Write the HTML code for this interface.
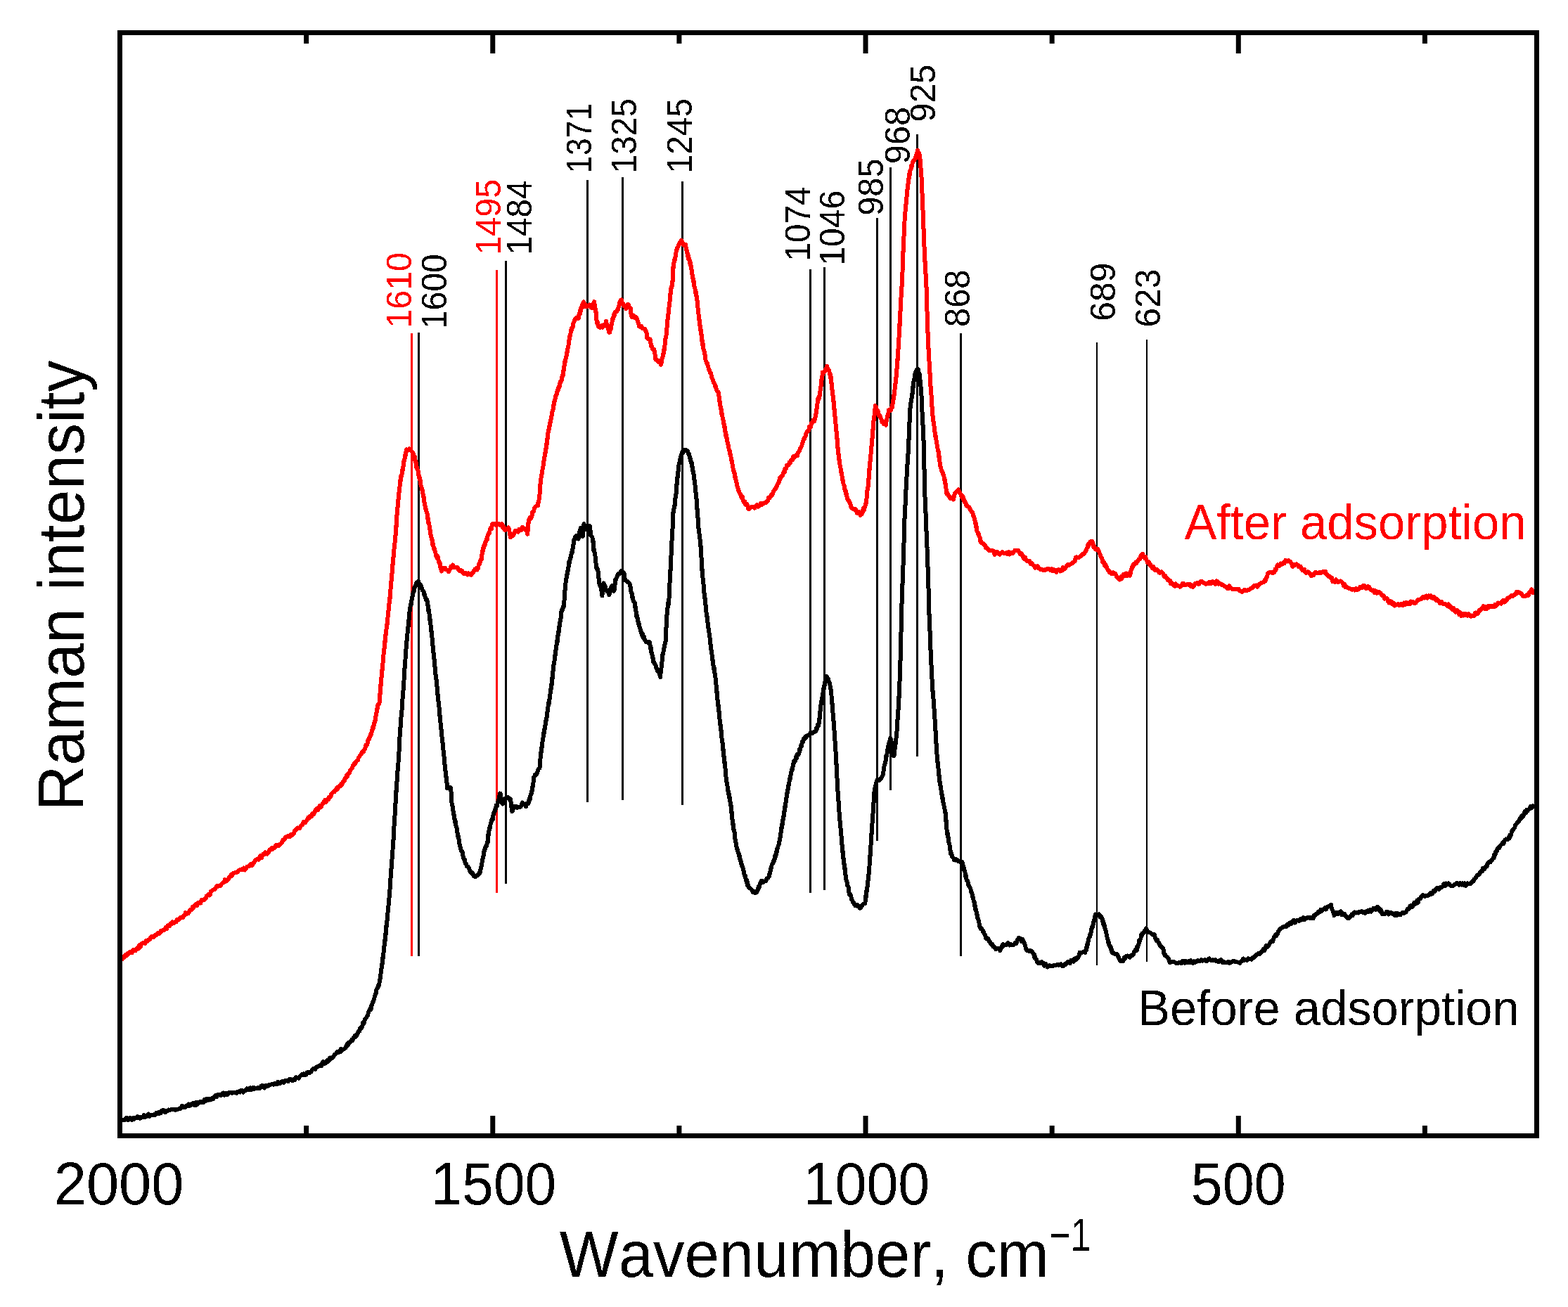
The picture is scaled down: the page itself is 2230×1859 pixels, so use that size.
<!DOCTYPE html><html><head><meta charset="utf-8"><title>Raman spectra</title><style>html,body{margin:0;padding:0;background:#fff;overflow:hidden;}svg{display:block;}</style></head><body><svg width="2230" height="1859" viewBox="0 0 2230 1859">
<rect x="0" y="0" width="2230" height="1859" fill="#fff"/>
<rect x="584" y="474" width="3" height="886" fill="#ff0000"/>
<rect x="594" y="473" width="3" height="887" fill="#000"/>
<rect x="705" y="384" width="3" height="886" fill="#ff0000"/>
<rect x="718" y="371" width="3" height="886" fill="#000"/>
<rect x="834" y="256" width="3" height="885" fill="#000"/>
<rect x="884" y="252" width="3" height="886" fill="#000"/>
<rect x="969" y="258" width="3" height="887" fill="#000"/>
<rect x="1151" y="383" width="3" height="887" fill="#000"/>
<rect x="1171" y="380" width="3" height="886" fill="#000"/>
<rect x="1246" y="310" width="3" height="886" fill="#000"/>
<rect x="1265" y="238" width="3" height="886" fill="#000"/>
<rect x="1303" y="191" width="3" height="885" fill="#000"/>
<rect x="1365" y="474" width="3" height="886" fill="#000"/>
<rect x="1559" y="487" width="2" height="886" fill="#000"/>
<rect x="1630" y="483" width="2" height="885" fill="#000"/>
<path d="M170.5,1365.2L171.8,1363.5L173.1,1364.8L174.4,1361.3L175.7,1362.4L177.1,1360.7L178.4,1358.4L179.7,1359.5L181.0,1356.5L182.3,1357.3L183.6,1354.8L184.9,1353.9L186.2,1354.4L187.6,1355.3L188.9,1351.3L190.2,1350.8L191.5,1351.6L192.8,1352.1L194.1,1349.5L195.5,1347.8L196.8,1349.4L198.2,1344.3L199.5,1347.0L200.9,1343.5L202.2,1341.9L203.6,1340.9L204.9,1340.8L206.3,1342.1L207.6,1338.3L209.0,1339.2L210.3,1338.5L211.7,1336.4L213.0,1336.2L214.4,1333.1L215.7,1332.2L217.0,1331.9L218.4,1333.0L219.7,1331.0L221.1,1329.5L222.4,1329.8L223.7,1328.2L225.1,1326.6L226.4,1327.9L227.8,1326.5L229.1,1323.6L230.5,1324.1L231.8,1322.9L233.1,1323.5L234.5,1321.9L235.8,1319.0L237.2,1321.2L238.5,1316.4L239.8,1316.8L241.2,1317.3L242.5,1313.7L243.9,1314.3L245.2,1311.4L246.6,1313.2L247.9,1312.7L249.3,1310.9L250.6,1311.3L252.0,1307.9L253.3,1308.6L254.7,1307.2L256.0,1306.2L257.4,1304.7L258.7,1305.5L260.1,1305.0L261.4,1302.0L262.7,1301.8L263.9,1298.1L265.2,1299.9L266.5,1298.7L267.7,1299.2L269.0,1297.4L270.3,1294.0L271.5,1293.5L272.8,1293.7L274.1,1289.8L275.3,1290.7L276.6,1288.4L277.9,1287.2L279.1,1285.9L280.4,1288.0L281.7,1284.2L282.9,1283.7L284.2,1283.3L285.4,1284.4L286.6,1279.8L287.8,1280.3L289.0,1279.7L290.2,1280.1L291.4,1278.7L292.6,1277.8L293.8,1274.2L295.0,1273.7L296.3,1272.4L297.5,1273.6L298.7,1272.9L299.9,1268.2L301.1,1267.3L302.3,1266.4L303.5,1265.4L304.7,1265.4L305.9,1264.8L307.1,1262.3L308.4,1260.1L309.6,1260.9L310.9,1259.7L312.2,1259.5L313.4,1260.2L314.7,1258.0L316.0,1256.3L317.2,1255.7L318.5,1254.9L319.8,1251.2L321.0,1253.9L322.3,1252.3L323.6,1251.7L324.8,1250.4L326.1,1247.6L327.4,1246.6L328.6,1244.3L329.9,1245.6L331.4,1242.3L333.0,1241.6L334.5,1241.4L336.0,1240.5L337.5,1240.5L339.1,1238.5L340.6,1237.5L342.1,1237.4L343.6,1236.4L345.2,1236.8L346.7,1234.6L348.2,1237.5L349.7,1235.6L351.3,1232.8L352.8,1232.5L354.1,1231.9L355.3,1231.0L356.6,1228.9L357.9,1231.1L359.1,1230.7L360.4,1227.4L361.7,1226.4L362.9,1223.6L364.2,1222.7L365.5,1222.7L366.7,1221.4L368.0,1222.8L369.3,1218.9L370.5,1217.3L371.8,1220.3L373.1,1217.5L374.3,1214.8L375.6,1215.5L376.9,1212.3L378.3,1213.5L379.6,1214.6L381.0,1213.1L382.3,1211.5L383.6,1208.6L385.0,1208.1L386.3,1206.3L387.7,1208.0L389.0,1206.0L390.4,1206.2L391.7,1203.3L393.0,1201.8L394.4,1203.5L395.7,1203.3L397.1,1201.8L398.4,1200.6L399.7,1199.7L400.9,1198.3L402.2,1195.0L403.5,1195.3L404.8,1193.6L406.0,1191.1L407.3,1190.1L408.6,1190.2L409.9,1189.1L411.1,1190.0L412.4,1190.1L413.7,1186.9L414.9,1188.0L416.2,1187.2L417.5,1186.1L418.8,1182.4L420.0,1180.8L421.3,1179.8L422.4,1178.5L423.6,1177.4L424.7,1178.1L425.9,1178.2L427.0,1176.8L428.1,1174.1L429.3,1173.7L430.4,1173.2L431.6,1168.9L432.7,1170.3L433.8,1170.3L435.0,1168.6L436.1,1167.3L437.3,1164.9L438.4,1162.5L439.5,1164.0L440.7,1160.9L441.8,1161.8L443.0,1161.4L444.1,1157.7L445.2,1156.6L446.4,1157.9L447.5,1155.8L448.7,1152.2L449.8,1150.8L451.0,1149.8L452.1,1152.0L453.3,1150.4L454.4,1146.3L455.6,1148.2L456.7,1147.7L457.8,1145.2L459.0,1142.7L460.1,1142.4L461.3,1139.4L462.4,1137.7L463.6,1140.8L464.7,1138.2L465.9,1136.6L467.0,1137.2L468.1,1133.8L469.2,1134.5L470.3,1133.1L471.3,1129.2L472.4,1128.2L473.5,1127.2L474.6,1125.8L475.7,1126.1L476.8,1123.5L477.9,1123.0L478.9,1120.5L480.0,1122.8L481.1,1119.1L482.2,1118.4L483.3,1117.7L484.4,1118.0L485.5,1114.6L486.5,1115.6L487.6,1112.6L488.7,1111.5L489.8,1110.3L490.7,1106.7L491.5,1107.1L492.4,1104.5L493.2,1102.3L494.1,1104.4L494.9,1100.2L495.8,1100.1L496.6,1099.8L497.5,1097.6L498.4,1095.2L499.2,1094.6L500.1,1093.3L500.9,1092.9L501.8,1088.5L502.6,1089.1L503.5,1086.3L504.4,1085.0L505.3,1085.9L506.2,1083.3L507.2,1082.2L508.1,1081.7L509.0,1081.0L509.9,1077.5L510.8,1076.9L511.7,1075.1L512.6,1073.7L513.5,1073.1L514.5,1070.7L515.4,1069.7L516.3,1068.1L517.2,1068.7L518.0,1066.2L518.7,1065.4L519.5,1064.2L520.3,1059.6L521.0,1059.4L521.8,1059.6L522.6,1057.6L523.3,1053.0L524.1,1051.4L524.9,1051.3L525.6,1048.1L526.4,1047.4L526.9,1045.0L527.4,1046.0L527.9,1044.9L528.3,1043.7L528.8,1038.8L529.3,1039.7L529.8,1037.8L530.3,1033.9L530.8,1035.5L531.3,1034.3L531.7,1029.4L532.2,1030.9L532.7,1026.9L533.2,1025.6L533.5,1026.2L533.9,1023.9L534.2,1019.3L534.5,1018.9L534.8,1017.6L535.2,1015.2L535.5,1012.9L535.8,1011.8L536.2,1012.0L536.5,1007.2L536.8,1007.9L537.1,1005.8L537.5,1002.3L537.8,1002.1L538.6,1001.9L539.5,1000.1L539.6,996.4L539.8,998.8L539.9,996.3L540.0,995.4L540.2,989.9L540.3,989.0L540.4,986.3L540.6,987.9L540.7,984.0L540.8,981.7L540.9,981.4L541.1,981.9L541.2,979.8L541.3,975.7L541.5,973.5L541.6,975.2L541.7,972.0L541.9,970.9L542.0,966.6L542.2,964.8L542.3,965.9L542.5,963.1L542.7,959.9L542.8,962.1L543.0,959.1L543.1,958.2L543.3,953.3L543.5,955.1L543.6,950.0L543.8,951.8L544.0,948.4L544.1,946.2L544.3,945.5L544.4,945.5L544.6,940.9L544.8,938.7L544.9,938.8L545.1,935.8L545.3,933.6L545.4,932.2L545.6,930.1L545.8,929.1L545.9,927.9L546.1,926.2L546.3,926.6L546.4,922.9L546.6,922.1L546.8,919.1L547.0,918.1L547.1,915.0L547.3,914.4L547.5,911.7L547.6,913.2L547.8,910.8L548.0,907.5L548.1,907.1L548.3,907.5L548.5,902.2L548.7,903.7L548.9,900.3L549.1,898.9L549.3,898.7L549.5,895.1L549.7,893.9L550.0,893.0L550.2,892.7L550.4,888.2L550.6,888.7L550.8,886.4L551.0,884.4L551.2,881.8L551.4,879.8L551.6,876.9L551.7,875.5L551.9,873.6L552.1,874.9L552.2,871.1L552.4,869.0L552.6,867.0L552.7,868.6L552.9,867.1L553.1,864.5L553.2,861.1L553.4,859.3L553.6,857.8L553.7,856.9L553.9,853.9L554.1,853.5L554.2,851.0L554.4,852.4L554.6,850.8L554.7,847.2L554.9,844.2L555.1,845.7L555.2,841.2L555.4,839.7L555.6,836.5L555.7,836.5L555.9,835.2L556.1,833.7L556.2,830.7L556.4,830.3L556.5,826.4L556.7,825.9L556.8,823.5L556.9,823.1L557.0,819.9L557.2,818.1L557.3,817.7L557.4,815.7L557.5,815.6L557.7,813.6L557.8,812.9L557.9,810.8L558.0,809.4L558.2,808.4L558.3,804.6L558.4,802.7L558.6,803.9L558.7,798.5L558.9,799.4L559.0,797.4L559.2,793.1L559.3,794.9L559.5,793.4L559.6,790.6L559.8,789.4L559.9,788.1L560.1,783.4L560.2,783.5L560.4,781.7L560.5,781.5L560.7,779.6L560.9,778.1L561.1,775.3L561.3,775.0L561.5,772.3L561.7,770.7L561.8,767.0L562.0,764.4L562.2,763.2L562.4,762.5L562.6,759.6L562.8,761.2L563.0,758.3L563.1,756.9L563.2,755.2L563.3,753.8L563.4,751.3L563.5,747.5L563.6,749.3L563.7,747.4L563.8,744.7L563.9,743.2L564.0,742.0L564.1,737.8L564.2,739.0L564.3,735.2L564.4,732.8L564.5,732.0L564.6,732.3L564.7,728.4L564.8,729.1L565.0,728.5L565.1,724.8L565.3,722.7L565.4,721.5L565.6,720.8L565.8,719.6L565.9,717.3L566.1,715.8L566.2,711.7L566.4,710.4L566.6,709.3L566.7,709.9L566.9,706.3L567.0,705.9L567.2,701.9L567.4,700.4L567.6,699.7L567.8,699.8L567.9,698.2L568.1,696.5L568.3,693.1L568.5,692.4L568.7,690.6L568.9,688.9L569.0,685.7L569.2,687.5L569.4,682.7L569.6,684.5L570.0,682.6L570.3,676.9L570.7,677.2L571.0,677.1L571.4,676.1L571.8,672.1L572.1,669.6L572.5,667.7L572.8,669.2L573.2,664.3L573.5,664.2L573.7,660.6L574.0,660.6L574.2,660.7L574.5,655.4L574.7,656.7L575.0,653.6L575.4,653.6L575.9,651.1L576.3,647.3L576.7,648.5L577.1,645.0L577.6,641.2L578.0,639.4L579.4,640.8L580.8,639.8L582.2,638.3L583.6,639.2L585.0,641.7L586.4,643.2L587.1,646.9L587.8,644.7L588.6,649.4L589.3,651.3L590.0,649.5L590.3,654.7L590.7,655.3L591.0,657.8L591.3,656.7L591.7,658.6L592.0,660.3L592.3,664.6L592.7,664.4L593.0,665.0L593.4,667.0L593.8,668.0L594.3,668.7L594.7,670.6L595.1,675.5L595.5,674.7L595.9,679.3L596.4,677.9L596.8,679.7L597.2,682.4L597.6,682.6L597.9,685.0L598.3,689.1L598.6,690.3L599.0,691.6L599.4,692.3L599.7,695.1L600.1,696.8L600.4,696.7L600.8,699.0L601.1,697.7L601.3,702.3L601.6,702.7L601.9,705.7L602.2,706.8L602.4,706.9L602.7,707.5L603.0,713.0L603.3,711.1L603.5,714.2L603.8,715.3L604.2,716.7L604.6,720.3L604.9,723.0L605.3,721.5L605.7,724.9L606.1,724.9L606.5,727.7L606.9,728.6L607.2,729.3L607.6,730.9L608.0,732.7L608.3,737.4L608.5,737.3L608.8,737.7L609.1,742.3L609.4,744.4L609.6,743.6L609.9,743.9L610.2,745.7L610.5,746.9L610.7,749.7L611.0,750.2L611.3,752.5L611.7,754.2L612.0,757.2L612.3,760.2L612.6,761.3L613.0,761.4L613.3,763.1L613.6,765.2L613.9,766.2L614.3,767.7L614.6,768.1L615.0,770.6L615.4,775.2L615.9,773.0L616.3,776.2L616.7,778.3L617.1,780.9L617.5,779.6L618.0,781.4L618.4,782.8L618.8,785.1L619.5,786.8L620.2,790.6L620.9,791.7L621.5,793.3L622.2,791.1L622.9,792.7L623.6,797.2L624.1,799.6L624.6,799.3L625.0,801.4L625.5,800.4L626.0,803.7L626.5,807.6L627.0,808.7L627.4,810.4L627.9,812.5L628.4,810.9L629.6,809.1L630.8,808.0L632.0,808.4L633.2,807.9L634.4,810.3L635.6,810.5L636.8,811.4L638.0,813.2L639.2,810.4L640.4,809.3L641.6,805.6L642.8,807.4L644.0,803.5L645.4,807.5L646.9,807.3L648.3,806.7L649.8,806.9L651.2,808.4L652.6,811.1L654.0,812.4L655.4,810.8L656.8,811.6L658.2,814.6L659.6,815.9L661.3,815.5L663.0,815.3L664.6,817.4L666.3,815.3L668.0,817.1L669.2,816.6L670.4,817.6L671.6,815.0L672.8,814.9L674.0,811.9L675.5,809.6L677.0,808.4L678.5,810.4L680.0,808.0L680.6,804.6L681.2,801.7L681.8,802.2L682.4,801.3L683.0,798.6L683.6,796.2L684.2,796.4L684.8,795.9L685.1,791.2L685.3,788.8L685.6,788.5L685.9,787.3L686.1,786.8L686.4,783.1L686.7,784.1L686.9,782.3L687.2,779.6L687.8,776.8L688.4,778.7L689.0,774.3L689.6,775.0L690.2,770.9L690.8,769.4L691.4,770.2L692.0,766.7L692.6,767.9L693.2,764.3L693.8,761.3L694.4,759.8L695.0,759.0L695.6,758.4L696.2,758.0L696.8,752.8L697.5,752.5L698.2,750.3L699.0,752.2L699.7,747.1L700.4,745.2L702.1,744.5L703.8,745.3L705.4,746.8L707.1,746.0L708.8,744.6L710.4,746.6L712.0,747.1L713.6,745.2L714.4,746.0L715.2,750.7L716.0,751.3L716.7,749.5L717.5,753.7L718.3,753.9L719.9,753.0L721.5,752.1L723.1,750.5L723.6,751.5L724.1,754.5L724.6,756.5L725.2,760.9L725.7,758.9L726.2,764.3L726.7,762.7L727.9,761.9L729.1,762.5L730.3,761.1L731.5,757.9L732.7,754.8L734.1,756.0L735.6,754.8L737.0,756.5L738.5,752.6L739.9,752.6L741.4,754.3L742.9,749.9L744.4,751.0L745.9,752.2L746.7,753.4L747.6,751.7L748.4,753.1L749.3,754.6L750.1,759.8L750.3,755.3L750.5,755.7L750.6,754.7L750.8,750.6L751.0,748.6L751.2,749.9L751.4,746.8L751.5,743.5L751.7,743.8L751.9,740.4L752.8,738.7L753.7,736.0L754.6,737.8L755.5,737.0L756.0,734.2L756.5,734.1L757.0,728.5L757.6,727.9L758.1,727.4L758.6,728.0L759.1,726.4L760.3,722.5L761.5,720.4L762.7,719.8L763.9,718.6L765.1,719.1L765.4,714.2L765.7,715.2L766.0,713.3L766.3,712.0L766.6,710.2L766.9,707.8L767.2,704.9L767.5,703.2L767.6,701.8L767.7,702.0L767.8,697.2L767.9,696.1L768.0,696.9L768.2,693.1L768.3,690.6L768.4,688.9L768.5,689.5L768.6,686.9L768.7,688.1L769.0,686.0L769.2,684.7L769.5,679.8L769.8,677.2L770.0,675.6L770.3,675.6L770.6,674.8L770.8,671.9L771.1,669.2L771.4,668.4L771.6,667.7L771.9,666.4L772.2,665.1L772.4,663.9L772.7,661.5L773.0,657.5L773.2,659.1L773.5,655.1L773.8,654.7L774.0,652.2L774.3,652.2L774.6,648.3L774.8,646.9L775.1,645.3L775.4,643.3L775.6,644.9L775.9,641.9L776.2,639.1L776.4,637.7L776.7,638.6L777.0,634.7L777.2,631.8L777.5,632.6L777.8,630.1L778.0,629.9L778.3,624.3L778.5,624.2L778.7,624.0L778.9,622.4L779.1,621.1L779.4,615.5L779.6,615.0L779.8,612.5L780.0,611.1L780.4,613.0L780.7,609.7L781.1,609.6L781.4,605.5L781.8,606.1L782.1,602.6L782.5,600.2L782.9,600.9L783.2,600.0L783.6,594.7L783.9,595.2L784.3,593.7L784.6,590.4L785.0,589.4L785.3,586.8L785.6,585.4L785.9,583.9L786.2,583.8L786.6,582.3L786.9,578.7L787.2,576.2L787.5,575.9L787.8,575.8L788.1,571.9L788.4,570.8L788.8,568.7L789.2,569.8L789.7,567.1L790.2,563.5L790.7,562.1L791.2,561.8L791.6,561.0L792.1,559.8L792.6,555.9L793.1,554.7L793.6,555.5L794.0,552.7L794.5,550.6L795.0,549.2L795.5,550.4L796.1,545.9L796.6,545.4L797.2,542.8L797.8,541.4L798.3,541.8L798.9,540.7L799.4,536.3L800.0,533.9L800.5,534.6L800.8,530.7L801.0,528.2L801.2,530.5L801.5,526.8L801.8,526.9L802.0,523.5L802.2,523.9L802.5,520.5L802.8,517.5L803.0,515.3L803.4,515.9L803.8,514.6L804.2,514.0L804.6,508.7L805.0,509.3L805.4,506.5L805.8,505.3L806.1,502.0L806.5,500.9L806.8,500.2L807.2,500.2L807.5,494.9L807.9,494.8L808.2,494.4L808.4,493.4L808.7,488.3L808.9,486.3L809.1,488.1L809.3,486.5L809.6,482.7L809.8,479.0L810.1,481.3L810.5,477.3L810.8,477.9L811.2,475.0L811.5,474.3L812.1,469.8L812.6,470.9L813.2,466.8L813.7,466.0L814.3,466.3L814.8,464.6L815.4,460.2L815.9,458.7L816.4,457.9L817.0,456.8L817.5,454.6L819.1,452.3L820.8,451.8L822.4,452.8L823.0,451.9L823.6,446.5L824.2,447.2L824.8,446.4L825.3,441.5L825.8,443.2L826.2,438.3L826.7,438.6L827.2,436.6L827.9,435.1L828.7,431.9L829.4,430.6L830.1,429.5L830.6,430.6L831.1,433.4L831.6,434.3L832.1,436.1L833.7,433.9L835.4,436.1L837.0,435.2L838.6,433.6L840.2,437.2L841.8,438.4L842.6,435.4L843.5,432.6L844.3,432.3L845.1,429.1L845.4,430.9L845.7,433.9L846.0,434.1L846.3,437.4L846.6,439.4L846.9,439.1L847.2,443.4L847.5,442.7L847.6,447.3L847.8,449.3L847.9,449.9L848.0,449.6L848.2,453.4L848.3,454.6L848.9,458.9L849.6,457.1L850.2,462.0L850.9,464.4L851.5,465.0L853.1,465.8L854.8,463.5L856.8,465.7L858.8,462.3L859.9,463.0L861.0,461.5L862.1,456.8L862.6,461.3L863.2,463.7L863.7,461.6L864.2,464.6L864.8,468.2L865.3,467.3L866.1,472.6L866.9,471.9L867.4,472.5L867.8,467.8L868.3,467.7L868.8,467.8L869.3,462.9L869.7,461.4L870.2,460.7L870.5,458.3L870.7,455.4L871.0,454.5L871.3,452.7L871.5,454.5L871.8,451.8L872.6,451.3L873.4,446.7L874.2,448.0L875.0,443.6L876.1,443.8L877.2,442.7L878.3,439.9L878.8,440.5L879.4,437.5L879.9,436.0L880.4,435.7L881.0,430.7L881.5,433.0L882.0,429.7L882.6,427.1L883.1,427.2L883.9,426.5L884.7,431.3L885.6,431.1L886.4,431.8L887.2,435.2L888.3,435.1L889.3,435.3L890.4,439.2L891.2,434.7L892.0,436.7L892.8,432.7L893.6,433.0L894.3,436.1L894.9,436.0L895.6,438.0L896.2,438.1L896.9,438.3L897.1,440.1L897.2,442.2L897.4,445.9L897.5,446.7L897.7,448.7L899.1,451.1L900.5,448.6L902.0,449.8L903.4,452.5L904.5,451.3L905.5,452.9L906.6,456.1L907.2,456.8L907.8,459.7L908.4,461.0L909.0,464.4L910.6,465.2L912.3,464.3L913.9,466.9L915.5,467.6L917.1,467.5L918.7,472.3L919.0,471.1L919.4,472.5L919.7,474.0L920.1,478.2L920.4,481.0L921.7,482.0L923.1,481.6L924.4,482.4L924.7,482.9L925.0,487.3L925.4,488.5L925.7,489.2L926.0,492.1L927.0,492.9L928.0,496.7L928.9,497.4L929.9,496.9L930.9,501.4L931.1,499.3L931.4,503.2L931.6,504.4L931.8,505.4L932.0,506.3L932.3,511.2L932.5,509.6L934.5,512.8L936.6,515.3L937.7,513.4L938.7,515.3L939.8,518.7L940.3,516.5L940.8,515.3L941.2,514.2L941.7,509.6L942.2,508.5L942.6,506.7L942.9,503.9L943.3,505.8L943.6,503.6L944.0,501.6L944.3,496.8L944.7,498.7L944.9,496.5L945.2,493.6L945.4,493.0L945.6,490.0L945.8,487.3L946.1,485.0L946.3,483.8L946.5,481.2L946.8,480.8L947.0,480.9L947.2,478.9L947.4,477.9L947.7,475.6L947.9,471.9L948.1,471.5L948.2,469.4L948.4,469.3L948.5,466.5L948.7,463.8L948.9,463.8L949.0,463.6L949.2,458.7L949.3,460.0L949.5,454.6L949.7,454.0L949.8,452.3L950.0,452.9L950.1,452.2L950.3,449.7L950.5,446.2L950.6,447.0L950.8,443.0L950.9,441.0L951.1,442.3L951.3,439.5L951.4,438.1L951.6,436.4L951.8,436.1L952.0,432.3L952.1,432.3L952.3,430.0L952.5,429.1L952.6,425.6L952.8,425.3L953.0,422.9L953.3,420.0L953.5,417.8L953.7,417.9L953.9,413.7L954.2,415.7L954.4,410.5L954.7,408.3L955.1,406.9L955.4,408.8L955.8,404.5L956.1,401.9L956.5,399.7L956.8,398.0L956.9,399.2L956.9,397.3L957.0,395.9L957.0,394.4L957.1,389.8L957.1,390.4L957.2,387.7L957.3,388.1L957.3,386.4L957.4,385.1L957.4,379.8L957.5,381.6L957.8,380.2L958.2,378.6L958.5,373.3L958.8,372.0L959.2,370.0L959.5,368.0L959.8,369.9L960.2,368.0L960.5,365.6L960.8,364.8L961.2,362.2L961.5,359.1L961.8,356.6L962.2,354.9L962.5,356.1L963.3,352.1L964.1,351.1L964.8,350.0L965.6,346.6L966.4,346.1L967.2,344.7L968.0,345.0L968.8,341.9L969.8,343.0L970.8,347.0L971.9,346.3L972.9,349.0L974.0,349.3L975.0,347.9L975.4,351.3L975.8,353.1L976.2,356.2L976.7,356.0L977.1,359.2L977.5,360.2L977.9,360.4L978.3,364.9L978.8,363.2L979.2,368.0L979.7,366.7L980.2,367.5L980.6,369.9L981.1,374.0L981.6,376.5L982.0,373.8L982.5,377.5L982.8,379.1L983.0,382.0L983.3,380.9L983.6,383.9L983.8,384.9L984.1,388.6L984.4,387.7L984.6,392.3L984.9,391.0L985.2,392.3L985.4,396.1L985.7,396.8L986.0,396.7L986.2,400.6L986.6,399.8L986.9,404.6L987.2,405.9L987.6,407.9L987.9,408.9L988.2,409.4L988.6,411.2L988.9,412.9L989.2,416.7L989.6,414.8L989.9,420.0L990.2,417.9L990.6,420.4L990.9,422.3L991.2,426.8L991.4,426.6L991.6,427.7L991.8,431.5L991.9,430.2L992.1,432.8L992.3,434.7L992.4,437.3L992.6,438.8L992.8,440.0L993.0,440.2L993.1,441.7L993.3,442.6L993.5,447.2L993.6,448.0L993.8,449.9L994.0,449.0L994.1,451.8L994.3,454.8L994.5,455.6L994.7,455.2L994.8,458.2L995.0,461.7L995.2,460.5L995.5,462.0L995.8,464.1L996.0,467.6L996.2,469.8L996.5,468.5L996.8,470.2L997.0,472.2L997.2,474.2L997.5,476.8L997.8,476.8L998.0,479.2L998.2,480.3L998.5,485.4L998.8,486.0L999.0,484.9L999.3,490.3L999.6,488.1L999.9,491.0L1000.2,495.2L1000.5,496.0L1000.8,497.4L1001.1,497.7L1001.4,498.2L1001.7,501.8L1002.0,501.1L1002.3,503.1L1002.6,505.5L1002.9,505.6L1003.2,508.8L1003.5,512.2L1003.8,513.4L1004.3,514.0L1004.9,516.2L1005.5,517.0L1006.1,517.1L1006.6,520.6L1007.2,521.3L1007.8,524.3L1008.4,526.6L1008.9,526.0L1009.5,528.2L1010.1,530.5L1010.7,530.6L1011.2,531.3L1011.8,535.1L1012.4,537.4L1013.0,538.5L1013.5,539.7L1014.1,542.0L1014.7,542.8L1015.2,544.3L1015.8,545.0L1016.4,546.0L1016.9,549.0L1017.5,548.2L1018.3,551.3L1019.0,554.6L1019.8,555.9L1020.6,557.2L1021.3,557.2L1022.1,559.7L1022.3,561.5L1022.5,564.0L1022.8,564.7L1023.0,567.6L1023.2,570.4L1023.4,568.9L1023.7,572.7L1023.9,574.9L1024.1,574.9L1024.4,577.1L1024.8,580.9L1025.1,578.5L1025.5,582.4L1025.8,582.5L1026.2,586.9L1026.5,589.3L1026.9,589.2L1027.2,589.0L1027.5,592.9L1027.9,594.4L1028.2,596.9L1028.6,597.7L1028.9,600.0L1029.3,602.6L1029.6,603.0L1030.0,604.2L1030.3,608.3L1030.6,606.7L1030.9,610.5L1031.2,611.0L1031.5,614.3L1031.7,613.2L1032.0,618.7L1032.3,617.6L1032.6,618.0L1032.9,620.7L1033.3,623.0L1033.7,623.0L1034.1,626.5L1034.5,628.2L1034.9,631.1L1035.3,631.3L1035.7,632.6L1036.1,634.2L1036.5,638.2L1036.9,640.7L1037.3,640.6L1037.7,641.0L1038.1,645.3L1038.5,645.2L1038.9,646.1L1039.3,647.4L1039.7,652.0L1040.1,653.9L1040.4,654.8L1040.8,655.8L1041.1,657.9L1041.4,658.2L1041.8,663.2L1042.1,662.2L1042.4,665.2L1042.8,667.7L1043.1,669.4L1043.5,669.6L1043.9,670.5L1044.3,673.3L1044.7,673.2L1045.1,678.0L1045.5,677.6L1045.9,681.5L1046.3,680.7L1046.7,682.9L1047.1,684.0L1047.5,686.4L1047.9,687.0L1048.2,687.9L1048.6,692.8L1049.0,692.5L1049.4,694.0L1049.8,695.9L1050.5,698.2L1051.3,699.4L1052.0,701.8L1052.8,703.3L1053.5,703.5L1054.3,707.4L1055.0,708.6L1055.8,706.6L1056.7,711.5L1057.5,713.4L1058.4,714.4L1059.2,713.2L1060.1,717.8L1061.1,718.3L1062.1,717.0L1063.2,718.5L1064.2,724.0L1065.2,724.2L1066.9,722.0L1068.5,720.9L1070.2,720.7L1071.8,720.6L1073.5,722.6L1075.1,719.9L1076.8,718.2L1078.4,720.7L1080.1,719.4L1081.7,715.8L1083.3,718.2L1085.0,716.1L1086.6,716.1L1088.3,714.8L1089.9,714.9L1090.9,713.2L1092.0,712.1L1093.0,708.0L1094.0,708.9L1095.0,706.9L1096.0,706.5L1097.1,703.9L1098.1,704.6L1099.1,701.6L1100.2,698.8L1101.2,697.1L1102.2,695.2L1103.3,695.2L1104.3,691.8L1105.0,691.9L1105.6,688.8L1106.2,688.6L1106.9,687.0L1107.5,685.5L1108.2,685.2L1108.8,679.8L1109.5,681.8L1110.4,678.7L1111.2,677.6L1112.1,676.6L1113.0,675.9L1113.9,672.4L1114.7,671.1L1115.6,672.0L1116.5,666.6L1117.3,667.5L1118.2,666.0L1119.1,661.8L1119.9,662.8L1120.8,661.6L1121.8,661.3L1122.8,657.3L1123.8,658.8L1124.9,655.3L1125.9,653.8L1126.9,654.2L1128.3,649.2L1129.8,651.0L1131.2,649.4L1132.7,646.9L1134.1,648.0L1134.8,644.3L1135.6,643.3L1136.3,642.1L1137.1,641.7L1137.8,637.8L1138.6,637.3L1139.3,635.8L1139.8,634.8L1140.3,634.5L1140.8,630.6L1141.3,631.4L1141.9,628.0L1142.4,626.9L1142.9,624.3L1143.4,623.8L1144.1,624.4L1144.9,621.5L1145.6,620.7L1146.3,617.2L1147.0,615.6L1147.8,614.1L1148.5,613.9L1149.4,612.5L1150.2,611.7L1151.1,606.8L1152.0,608.3L1152.8,607.4L1153.7,604.4L1154.5,600.9L1155.4,600.6L1156.2,597.9L1157.1,597.4L1158.0,599.2L1158.8,596.5L1159.2,595.0L1159.5,593.8L1159.8,592.7L1160.2,589.6L1160.6,587.9L1160.9,586.3L1161.1,584.9L1161.3,582.7L1161.6,581.4L1161.8,577.6L1162.0,577.9L1162.2,575.2L1162.5,574.9L1162.7,570.3L1162.9,568.9L1163.4,566.7L1163.9,568.4L1164.5,567.5L1165.0,564.8L1165.5,562.0L1166.0,562.4L1166.2,560.6L1166.4,558.0L1166.6,555.0L1166.8,553.6L1167.1,552.5L1167.3,550.4L1167.5,549.3L1167.7,548.6L1167.9,548.2L1168.1,542.7L1168.3,543.3L1168.5,539.4L1168.7,538.1L1168.9,539.5L1169.2,536.9L1169.4,536.7L1169.6,533.0L1169.8,529.5L1170.0,529.5L1171.0,529.2L1172.1,529.4L1173.1,528.4L1174.2,524.9L1175.2,523.4L1176.2,520.7L1176.9,524.7L1177.5,524.4L1178.1,525.7L1178.8,526.6L1179.4,528.1L1180.0,532.7L1180.6,531.8L1181.2,537.1L1181.5,534.9L1181.7,540.0L1181.9,538.4L1182.1,539.5L1182.3,544.3L1182.5,543.9L1182.7,547.7L1182.9,547.0L1183.1,548.0L1183.3,552.9L1183.5,554.3L1183.8,556.6L1183.9,557.7L1184.1,556.5L1184.2,560.6L1184.4,562.6L1184.6,563.2L1184.8,566.9L1184.9,565.6L1185.1,570.4L1185.2,571.0L1185.4,569.5L1185.6,571.2L1185.8,575.7L1185.9,578.1L1186.1,576.5L1186.2,579.2L1186.4,582.7L1186.6,581.9L1186.8,586.6L1186.9,586.6L1187.1,586.4L1187.2,589.4L1187.4,592.0L1187.6,593.1L1187.8,595.8L1187.9,595.1L1188.1,599.6L1188.2,599.4L1188.4,602.3L1188.6,603.9L1188.8,604.6L1188.9,606.3L1189.1,609.8L1189.3,612.3L1189.5,613.4L1189.6,614.2L1189.8,614.8L1190.0,615.6L1190.1,621.3L1190.3,621.7L1190.4,623.9L1190.6,623.4L1190.7,626.3L1190.8,629.6L1191.0,630.6L1191.1,631.3L1191.2,631.7L1191.4,633.9L1191.5,637.5L1191.7,637.0L1191.8,640.0L1191.9,641.3L1192.1,644.2L1192.2,645.5L1192.4,644.9L1192.5,645.3L1192.8,648.1L1193.0,650.4L1193.3,652.7L1193.6,655.3L1193.8,657.2L1194.1,655.1L1194.4,660.2L1194.6,661.7L1194.9,663.6L1195.2,663.9L1195.4,664.2L1195.7,668.3L1196.0,669.7L1196.2,670.8L1196.6,673.5L1196.9,672.7L1197.2,673.2L1197.5,676.9L1197.8,679.6L1198.1,678.7L1198.4,682.8L1198.8,685.2L1199.1,683.8L1199.4,687.1L1199.7,689.1L1200.0,689.8L1200.5,690.3L1200.9,692.1L1201.4,695.9L1201.8,697.6L1202.3,697.8L1202.7,697.7L1203.2,702.5L1203.6,703.9L1204.1,703.1L1204.5,706.3L1205.0,709.2L1205.6,710.7L1206.2,710.6L1206.9,711.9L1207.5,713.9L1208.1,713.6L1208.8,715.1L1209.4,716.6L1210.0,720.4L1210.6,720.4L1211.2,722.8L1212.8,723.1L1214.2,724.6L1215.8,724.0L1217.2,724.5L1218.8,729.7L1220.0,727.9L1221.2,727.8L1222.5,731.1L1223.8,732.8L1225.0,731.0L1225.6,731.4L1226.2,728.8L1226.9,728.1L1227.5,724.4L1228.1,722.9L1228.8,725.7L1229.4,723.6L1230.0,720.4L1230.6,719.3L1231.2,716.5L1231.5,717.1L1231.7,713.8L1231.9,714.5L1232.1,712.0L1232.3,710.6L1232.5,709.5L1232.7,704.8L1232.9,702.1L1233.1,701.2L1233.3,699.4L1233.5,697.3L1233.8,695.5L1234.0,696.1L1234.2,695.8L1234.4,692.3L1234.6,692.8L1234.8,691.0L1235.0,685.6L1235.1,686.3L1235.2,683.8L1235.4,681.0L1235.5,683.0L1235.6,678.3L1235.8,678.0L1235.9,676.7L1236.0,676.5L1236.1,673.6L1236.2,670.8L1236.4,669.4L1236.5,666.5L1236.6,668.4L1236.8,666.9L1236.9,661.9L1237.0,659.5L1237.1,658.8L1237.2,657.6L1237.4,658.4L1237.5,656.8L1237.7,654.8L1237.8,649.7L1238.0,651.3L1238.2,649.3L1238.3,647.3L1238.5,647.1L1238.7,641.4L1238.8,640.1L1239.0,641.1L1239.2,640.3L1239.3,637.4L1239.5,634.1L1239.7,633.7L1239.8,632.8L1240.0,628.3L1240.1,627.6L1240.3,625.6L1240.4,623.3L1240.6,623.3L1240.7,620.2L1240.8,618.8L1241.0,616.8L1241.1,617.4L1241.2,612.9L1241.4,614.3L1241.5,610.3L1241.7,608.0L1241.8,610.2L1241.9,605.4L1242.1,606.9L1242.2,604.9L1242.4,603.4L1242.5,598.4L1242.7,598.2L1242.9,595.0L1243.0,597.1L1243.2,595.1L1243.4,592.5L1243.6,590.1L1243.8,588.0L1243.9,588.6L1244.1,585.4L1244.3,584.5L1244.5,580.7L1244.6,579.5L1244.8,577.2L1245.0,578.4L1245.6,579.3L1246.2,579.1L1246.9,583.8L1247.5,582.7L1248.1,584.9L1248.8,585.4L1249.4,587.4L1250.0,591.5L1250.8,590.9L1251.7,591.9L1252.5,595.0L1253.3,595.9L1254.2,600.1L1255.0,598.3L1256.7,603.1L1258.3,600.1L1260.0,604.7L1260.3,602.1L1260.7,598.5L1261.0,598.0L1261.4,595.5L1261.7,593.8L1262.0,591.9L1262.4,590.9L1262.7,592.1L1263.1,590.5L1263.4,588.5L1263.8,583.2L1265.3,582.7L1266.8,583.9L1268.3,578.9L1268.6,580.1L1269.0,576.6L1269.3,578.0L1269.6,572.1L1269.9,573.9L1270.2,570.2L1270.6,567.7L1270.9,565.4L1271.1,567.4L1271.3,564.4L1271.5,561.3L1271.7,560.8L1271.9,561.2L1272.1,556.5L1272.3,556.5L1272.6,552.9L1272.8,551.5L1273.0,552.4L1273.2,550.5L1273.4,546.6L1273.6,544.5L1273.8,542.9L1274.0,543.5L1274.2,541.4L1274.3,538.8L1274.5,536.8L1274.6,537.0L1274.7,535.7L1274.8,534.5L1275.0,531.9L1275.1,528.6L1275.2,526.3L1275.4,527.6L1275.5,524.5L1275.6,524.3L1275.8,519.7L1275.9,521.4L1276.0,517.6L1276.2,518.2L1276.3,516.7L1276.4,513.4L1276.5,509.7L1276.7,511.9L1276.8,508.4L1276.9,508.5L1277.0,504.2L1277.1,502.2L1277.2,503.4L1277.3,499.7L1277.4,497.2L1277.5,496.5L1277.6,495.8L1277.7,491.6L1277.8,492.2L1277.9,490.2L1278.0,488.9L1278.1,485.5L1278.2,486.5L1278.3,485.3L1278.4,483.9L1278.5,479.8L1278.6,479.9L1278.7,476.8L1278.8,476.8L1278.9,472.1L1279.0,474.1L1279.1,472.8L1279.1,469.1L1279.2,467.5L1279.3,466.0L1279.4,464.3L1279.5,460.4L1279.6,463.0L1279.7,458.0L1279.7,456.2L1279.8,454.2L1279.9,453.2L1280.0,454.1L1280.1,449.0L1280.2,447.6L1280.2,448.6L1280.3,444.7L1280.4,442.3L1280.5,443.2L1280.6,441.5L1280.7,439.6L1280.8,438.8L1280.9,434.5L1281.0,436.2L1281.1,433.9L1281.2,429.4L1281.3,428.1L1281.3,428.1L1281.4,426.5L1281.5,423.8L1281.6,421.5L1281.7,421.1L1281.8,418.3L1281.9,418.7L1282.0,418.2L1282.1,413.4L1282.2,413.7L1282.3,412.8L1282.3,408.6L1282.4,409.8L1282.5,408.7L1282.6,404.6L1282.6,403.1L1282.7,403.3L1282.8,400.3L1282.9,398.1L1282.9,398.8L1283.0,396.5L1283.1,392.9L1283.2,390.8L1283.2,389.6L1283.3,388.4L1283.4,389.1L1283.5,386.7L1283.5,385.5L1283.6,383.5L1283.7,382.0L1283.7,376.8L1283.8,377.2L1283.9,377.5L1283.9,375.8L1284.0,371.1L1284.1,370.3L1284.1,369.5L1284.2,366.7L1284.2,365.8L1284.3,362.1L1284.4,362.1L1284.4,360.8L1284.5,357.0L1284.6,355.9L1284.6,357.9L1284.7,355.4L1284.8,354.5L1284.8,351.5L1284.9,350.6L1285.0,349.3L1285.0,347.7L1285.1,342.3L1285.2,343.3L1285.2,340.0L1285.3,340.2L1285.3,336.8L1285.4,336.3L1285.5,336.4L1285.5,333.4L1285.6,330.1L1285.7,329.7L1285.7,327.7L1285.8,328.3L1285.9,323.7L1285.9,322.2L1286.0,322.0L1286.1,318.1L1286.2,318.5L1286.4,318.5L1286.5,314.9L1286.6,312.2L1286.8,311.4L1286.9,310.0L1287.0,306.7L1287.1,305.0L1287.2,303.3L1287.4,302.4L1287.5,301.3L1287.6,299.1L1287.8,297.3L1287.9,294.9L1288.0,295.3L1288.2,295.0L1288.3,292.3L1288.5,290.5L1288.7,289.2L1288.8,285.6L1289.0,286.2L1289.1,283.4L1289.3,282.2L1289.5,280.8L1289.6,278.5L1289.8,276.2L1289.9,274.2L1290.1,272.5L1290.3,272.1L1290.4,269.9L1290.6,269.2L1290.8,265.0L1291.0,264.9L1291.2,265.5L1291.5,261.1L1291.7,260.8L1291.9,258.9L1292.1,256.4L1292.3,257.8L1292.5,253.1L1292.8,253.6L1293.0,249.2L1293.2,247.2L1293.6,249.2L1294.0,245.7L1294.4,242.4L1294.8,242.3L1295.2,240.9L1295.6,240.7L1296.0,236.3L1296.4,235.3L1296.8,236.9L1297.2,234.4L1298.0,230.3L1298.7,229.5L1299.5,228.1L1300.3,228.0L1301.0,226.2L1301.8,225.7L1302.3,223.8L1302.9,220.7L1303.4,220.0L1304.0,218.2L1304.5,216.5L1305.1,213.5L1305.6,216.4L1306.2,217.6L1306.7,220.0L1307.2,218.1L1307.8,222.9L1308.3,220.6L1308.4,225.6L1308.5,226.5L1308.7,227.7L1308.8,231.4L1308.9,231.3L1309.0,232.3L1309.2,235.6L1309.3,237.6L1309.4,238.1L1309.5,238.7L1309.7,240.7L1309.8,242.3L1309.9,245.2L1310.0,244.9L1310.2,247.0L1310.3,249.3L1310.4,250.2L1310.5,251.6L1310.5,255.3L1310.6,257.2L1310.7,257.3L1310.8,258.7L1310.9,259.2L1310.9,261.4L1311.0,262.3L1311.1,265.9L1311.2,267.5L1311.3,267.0L1311.4,272.3L1311.4,271.3L1311.5,275.3L1311.6,276.9L1311.7,279.1L1311.7,277.4L1311.8,280.0L1311.8,283.8L1311.9,281.5L1312.0,283.3L1312.0,287.2L1312.1,288.5L1312.2,292.0L1312.2,293.0L1312.3,293.7L1312.3,297.3L1312.4,296.8L1312.5,298.5L1312.5,300.9L1312.6,301.2L1312.7,302.7L1312.7,305.4L1312.8,306.0L1312.8,310.2L1312.9,310.7L1313.0,311.6L1313.0,311.4L1313.1,314.2L1313.2,316.0L1313.2,318.3L1313.3,320.0L1313.3,323.0L1313.4,325.0L1313.5,324.6L1313.5,326.0L1313.6,328.4L1313.7,331.7L1313.7,330.5L1313.8,333.0L1313.9,335.9L1313.9,334.7L1314.0,337.0L1314.1,341.5L1314.2,342.5L1314.2,342.7L1314.3,342.6L1314.4,347.7L1314.4,348.5L1314.5,350.7L1314.6,353.1L1314.6,354.3L1314.7,353.9L1314.8,354.3L1314.9,356.6L1314.9,359.2L1315.0,360.8L1315.1,361.0L1315.2,362.7L1315.3,366.3L1315.3,367.8L1315.4,368.3L1315.5,372.8L1315.6,372.9L1315.7,371.9L1315.8,375.2L1315.8,378.5L1315.9,378.0L1316.0,381.3L1316.1,379.9L1316.2,382.9L1316.3,386.9L1316.4,387.3L1316.4,389.3L1316.5,388.9L1316.6,391.8L1316.7,393.7L1316.8,394.0L1316.9,397.3L1317.0,398.4L1317.1,402.1L1317.1,401.9L1317.2,402.8L1317.3,403.1L1317.4,404.9L1317.5,409.1L1317.5,407.9L1317.6,409.6L1317.6,411.5L1317.7,414.8L1317.7,417.7L1317.7,418.5L1317.8,421.0L1317.8,419.4L1317.9,420.8L1317.9,425.8L1318.0,425.5L1318.0,428.9L1318.0,429.0L1318.1,429.9L1318.1,431.9L1318.2,432.9L1318.2,438.1L1318.3,438.3L1318.3,438.9L1318.4,441.0L1318.4,442.3L1318.5,442.5L1318.5,447.8L1318.6,448.1L1318.7,451.4L1318.7,450.8L1318.8,453.2L1318.8,453.2L1318.9,453.9L1318.9,459.5L1319.0,460.8L1319.0,460.0L1319.1,464.3L1319.2,465.5L1319.2,464.9L1319.3,467.9L1319.4,471.1L1319.4,470.7L1319.5,474.3L1319.6,472.9L1319.7,475.2L1319.7,478.3L1319.8,477.7L1319.9,479.7L1319.9,483.9L1320.0,483.8L1320.1,486.8L1320.1,486.0L1320.2,487.4L1320.3,489.8L1320.4,490.7L1320.4,495.8L1320.5,494.5L1320.6,497.3L1320.7,497.0L1320.8,500.5L1320.8,501.4L1320.9,503.2L1321.0,503.3L1321.1,505.2L1321.2,510.0L1321.3,509.5L1321.3,510.7L1321.4,512.1L1321.5,514.1L1321.6,515.6L1321.7,516.3L1321.8,520.8L1321.9,521.0L1322.0,521.8L1322.1,525.9L1322.2,524.8L1322.3,527.2L1322.4,531.4L1322.5,529.9L1322.6,532.9L1322.7,536.3L1322.8,537.8L1322.9,536.6L1323.0,539.1L1323.1,542.4L1323.2,542.5L1323.3,546.7L1323.4,545.0L1323.5,549.9L1323.6,549.6L1323.7,550.0L1323.8,552.7L1323.9,552.9L1324.1,557.0L1324.2,556.7L1324.3,561.2L1324.4,561.4L1324.5,562.1L1324.6,563.2L1324.7,566.4L1324.8,566.3L1324.9,570.9L1325.0,569.2L1325.2,572.6L1325.3,574.4L1325.4,574.8L1325.5,578.7L1325.6,578.6L1325.8,581.4L1325.9,582.7L1326.0,583.2L1326.1,585.2L1326.2,585.5L1326.3,587.5L1326.5,592.2L1326.6,591.5L1326.7,594.6L1326.9,593.8L1327.2,597.5L1327.4,598.2L1327.6,600.5L1327.8,601.2L1328.1,601.8L1328.3,604.6L1328.5,605.8L1328.7,607.0L1329.0,611.3L1329.2,611.0L1329.4,613.2L1329.7,617.0L1330.0,618.1L1330.2,620.2L1330.5,621.8L1330.8,620.2L1331.1,622.5L1331.3,623.0L1331.6,627.5L1331.9,629.1L1332.2,629.4L1332.4,631.3L1332.7,634.0L1333.0,635.8L1333.3,635.4L1333.6,639.6L1333.9,639.0L1334.2,641.8L1334.5,641.4L1334.8,642.7L1335.1,647.8L1335.3,648.7L1335.5,650.3L1335.7,649.1L1335.9,650.8L1336.1,653.0L1336.3,654.9L1336.5,657.0L1336.7,659.1L1336.9,659.3L1337.1,662.2L1337.7,665.1L1338.2,664.6L1338.8,669.0L1339.3,669.3L1339.9,671.5L1340.4,670.9L1341.0,673.2L1341.5,676.0L1341.9,676.2L1342.4,676.4L1342.9,681.8L1343.4,683.2L1343.8,682.8L1344.3,683.4L1344.5,688.7L1344.7,689.4L1345.0,688.6L1345.2,691.3L1345.4,692.4L1345.6,697.1L1345.9,696.3L1346.1,701.2L1346.3,702.2L1347.3,700.6L1348.4,704.6L1349.4,704.6L1350.5,707.5L1351.5,709.1L1353.5,708.0L1355.5,708.5L1355.9,710.5L1356.4,706.5L1356.8,706.9L1357.2,704.1L1357.7,702.6L1358.1,701.3L1359.8,699.9L1361.6,698.7L1363.3,696.5L1364.4,701.0L1365.4,701.3L1366.5,703.3L1367.5,706.7L1368.6,704.8L1369.4,709.1L1370.2,707.5L1370.9,712.0L1371.7,714.0L1372.5,713.1L1373.6,716.0L1374.6,719.4L1375.7,719.5L1376.7,720.7L1377.8,721.0L1378.7,721.7L1379.7,724.5L1380.6,726.2L1381.5,726.8L1382.4,728.8L1383.4,729.5L1384.3,733.5L1384.8,735.0L1385.2,734.8L1385.7,736.6L1386.2,739.5L1386.7,740.9L1387.1,744.7L1387.6,743.8L1387.9,745.4L1388.3,749.7L1388.6,748.2L1388.9,751.8L1389.3,752.5L1389.6,756.4L1390.2,756.7L1390.9,759.2L1391.5,758.1L1392.2,761.9L1392.8,763.1L1393.5,764.0L1393.8,767.3L1394.2,769.6L1394.6,768.4L1394.9,771.1L1396.2,772.4L1397.5,772.7L1398.8,773.1L1400.1,775.0L1401.2,776.0L1402.2,779.5L1403.3,779.7L1404.3,779.5L1405.4,781.7L1406.9,783.0L1408.4,783.2L1410.0,783.0L1411.5,783.3L1413.0,783.7L1414.5,788.7L1416.3,787.6L1418.2,784.7L1420.0,787.5L1421.9,788.6L1423.7,786.8L1425.5,785.0L1427.4,787.0L1429.2,787.0L1431.1,786.2L1432.9,788.0L1434.4,785.1L1435.9,788.5L1437.4,786.7L1438.9,786.1L1440.4,786.9L1441.9,785.0L1443.4,782.7L1445.1,783.0L1446.7,782.9L1448.3,782.8L1450.0,786.4L1451.1,788.0L1452.2,786.9L1453.3,787.7L1454.4,791.0L1455.5,793.2L1456.6,794.9L1457.9,792.6L1459.2,796.5L1460.5,797.8L1461.9,798.5L1463.2,797.7L1464.5,798.2L1465.8,802.1L1467.1,801.0L1468.4,802.3L1469.7,804.2L1471.0,804.5L1472.3,807.7L1473.9,805.6L1475.5,805.2L1477.0,808.1L1478.6,808.8L1480.2,810.2L1482.0,809.9L1483.7,811.0L1485.5,811.4L1487.2,809.6L1489.0,809.9L1490.7,808.6L1492.3,809.5L1493.9,811.0L1495.4,809.0L1497.0,812.0L1498.6,809.9L1500.4,811.4L1502.3,814.0L1504.1,810.4L1506.0,810.4L1507.8,812.4L1509.1,810.2L1510.4,811.5L1511.7,807.2L1513.1,809.7L1514.4,808.7L1515.7,807.3L1517.0,804.6L1518.6,803.3L1520.2,804.3L1521.8,803.0L1523.4,802.0L1525.0,801.0L1526.0,800.0L1526.9,799.6L1527.9,798.9L1528.9,797.9L1529.8,793.2L1530.8,792.4L1532.7,792.6L1534.5,792.8L1536.4,791.4L1538.3,790.4L1539.1,788.5L1540.0,788.1L1540.8,787.3L1541.6,788.2L1542.5,786.5L1543.3,784.9L1544.1,784.0L1545.0,782.5L1545.8,779.5L1546.7,779.0L1547.5,774.2L1548.4,775.5L1549.2,773.8L1550.3,770.7L1551.4,770.3L1552.5,770.3L1553.1,769.9L1553.7,772.3L1554.3,772.4L1554.9,774.3L1555.5,778.4L1556.1,776.3L1556.7,778.6L1558.2,781.6L1559.6,781.4L1561.0,780.6L1562.5,784.0L1563.1,784.4L1563.8,787.0L1564.4,788.0L1565.0,790.1L1565.6,792.0L1566.2,792.9L1566.9,793.3L1567.5,795.3L1568.3,799.8L1569.2,799.8L1570.0,799.3L1570.8,804.0L1571.6,802.8L1572.5,803.5L1573.3,806.8L1574.1,807.0L1575.0,809.4L1575.8,811.1L1576.6,811.0L1577.5,813.9L1578.3,813.3L1580.0,815.5L1581.7,816.2L1583.3,814.4L1585.0,816.3L1586.2,815.9L1587.5,818.6L1588.8,821.6L1590.0,821.3L1591.2,823.1L1592.5,824.4L1593.8,820.5L1595.0,823.3L1596.2,821.0L1597.5,817.1L1598.8,819.3L1600.0,816.2L1601.7,815.5L1603.3,819.1L1605.0,817.6L1606.7,818.7L1607.3,814.2L1608.0,815.4L1608.6,810.6L1609.2,809.7L1609.8,808.6L1610.5,805.4L1611.1,806.3L1611.7,802.9L1612.8,802.1L1613.9,802.6L1615.0,800.1L1616.1,800.9L1617.2,798.5L1618.3,798.3L1619.4,795.6L1620.5,795.7L1621.7,794.1L1622.8,789.6L1623.9,790.8L1625.0,787.6L1626.0,790.8L1627.0,791.8L1628.0,793.8L1629.0,792.0L1630.0,794.4L1631.0,797.6L1631.9,800.0L1632.9,800.6L1633.9,799.1L1634.8,803.1L1635.8,802.4L1637.3,805.6L1638.8,807.9L1640.3,806.0L1641.8,810.7L1643.3,810.8L1644.7,809.8L1646.1,810.3L1647.5,812.3L1648.9,814.8L1650.3,814.5L1651.7,813.3L1653.0,814.2L1654.3,816.0L1655.7,820.3L1657.0,819.0L1658.3,821.9L1659.6,822.1L1661.0,825.2L1662.3,825.1L1663.7,825.4L1665.0,830.0L1666.4,829.3L1667.9,830.8L1669.3,832.2L1670.7,833.6L1672.1,830.4L1673.6,832.7L1675.0,832.7L1676.7,833.6L1678.3,834.7L1680.0,833.8L1681.7,829.9L1683.3,830.0L1685.0,832.2L1686.7,831.9L1688.3,831.0L1690.0,831.8L1691.7,830.7L1693.4,834.1L1695.0,832.5L1696.7,834.9L1698.4,833.0L1700.0,829.8L1701.7,830.0L1703.4,828.7L1705.0,830.9L1706.7,828.7L1708.4,826.7L1710.0,827.7L1711.7,828.9L1713.4,829.8L1715.0,830.7L1716.7,830.3L1718.4,829.8L1720.0,828.0L1721.7,830.2L1723.3,828.8L1725.0,827.1L1726.7,828.7L1728.3,830.8L1730.0,826.3L1731.7,827.6L1733.3,830.7L1735.0,829.8L1736.7,830.6L1738.3,832.5L1740.0,832.3L1741.7,834.0L1743.3,834.3L1745.0,836.6L1746.7,837.1L1748.3,833.3L1750.0,836.1L1751.7,837.4L1753.3,838.3L1755.0,838.3L1756.7,838.1L1758.3,838.5L1760.0,837.7L1761.7,837.8L1763.4,840.5L1765.0,841.2L1766.7,841.9L1768.4,840.5L1770.0,838.6L1771.7,840.3L1773.4,839.9L1775.0,838.6L1776.7,838.9L1778.4,836.8L1780.0,836.9L1781.7,835.4L1783.4,833.0L1785.0,833.4L1786.7,832.5L1788.4,834.7L1790.0,831.8L1791.7,830.6L1793.3,829.3L1795.0,828.6L1796.6,828.4L1798.3,826.7L1799.0,824.5L1799.7,826.6L1800.4,823.1L1801.2,821.4L1801.9,820.3L1802.6,817.5L1803.3,815.2L1805.0,814.1L1806.7,814.5L1808.3,813.8L1810.0,815.0L1811.7,813.5L1812.6,813.8L1813.6,809.7L1814.5,810.9L1815.5,808.0L1816.4,804.3L1817.4,803.3L1818.3,803.7L1820.0,804.8L1821.7,801.4L1823.3,802.6L1825.0,800.5L1826.7,801.4L1828.3,796.8L1830.0,797.7L1831.7,798.5L1832.8,797.1L1833.9,798.4L1835.0,798.8L1836.1,800.8L1837.2,802.6L1838.3,805.9L1840.2,803.3L1842.0,803.7L1843.9,802.4L1845.8,803.8L1847.1,806.1L1848.4,806.4L1849.7,805.6L1851.1,809.1L1852.4,811.3L1853.7,810.9L1855.0,809.8L1856.4,813.9L1857.9,815.0L1859.3,813.5L1860.7,813.4L1862.1,814.5L1863.6,816.8L1865.0,819.2L1866.7,817.5L1868.3,818.0L1870.0,814.3L1871.6,814.1L1873.3,815.3L1875.0,815.0L1876.6,814.0L1878.3,815.3L1880.0,813.9L1881.7,812.8L1883.3,814.5L1885.0,813.0L1886.2,816.8L1887.5,816.8L1888.8,818.7L1890.0,820.4L1891.2,820.2L1892.5,822.3L1893.8,821.6L1895.0,826.9L1896.7,825.8L1898.3,828.1L1900.0,824.5L1901.7,827.4L1903.4,828.3L1905.0,827.1L1906.7,826.5L1908.1,827.9L1909.5,829.0L1910.8,832.8L1912.2,831.0L1913.6,835.3L1915.0,834.7L1916.7,835.8L1918.3,836.7L1920.0,837.2L1921.6,838.3L1923.3,838.7L1925.0,837.6L1926.7,839.4L1928.3,837.2L1930.0,839.2L1931.4,838.6L1932.8,837.8L1934.2,835.0L1935.5,836.2L1936.9,836.2L1938.3,833.1L1940.0,833.0L1941.7,834.8L1943.3,837.3L1945.0,834.4L1946.7,834.5L1948.4,837.4L1950.0,839.1L1951.7,840.4L1953.4,839.4L1955.0,843.0L1956.7,840.5L1958.1,843.7L1959.6,841.6L1961.0,842.1L1962.4,843.4L1963.8,843.9L1965.3,846.7L1966.7,847.7L1968.0,847.3L1969.2,851.7L1970.5,850.4L1971.7,850.6L1973.0,851.8L1974.2,855.4L1975.5,857.4L1976.7,855.2L1978.4,855.3L1980.0,859.2L1981.7,857.5L1983.3,861.5L1985.0,860.0L1986.7,860.5L1988.3,859.1L1990.0,861.0L1991.7,859.4L1993.4,858.7L1995.0,861.1L1996.7,857.5L1998.4,859.9L2000.0,856.7L2001.7,858.9L2003.3,857.5L2005.0,859.2L2006.7,855.4L2008.3,857.3L2010.0,856.3L2011.7,858.0L2013.3,857.5L2015.0,855.6L2016.7,853.2L2018.3,852.8L2020.0,852.3L2021.3,852.0L2022.7,850.1L2024.0,849.0L2025.4,850.4L2026.7,848.9L2028.4,847.5L2030.0,850.7L2031.7,847.4L2033.3,849.1L2035.0,847.4L2036.6,850.7L2038.3,850.8L2039.7,849.2L2041.2,852.4L2042.6,853.8L2044.0,852.5L2045.4,853.8L2046.9,855.6L2048.3,858.4L2050.0,855.8L2051.6,858.7L2053.3,858.9L2055.0,858.8L2056.7,860.0L2058.3,861.9L2060.0,859.5L2061.4,863.6L2062.9,862.3L2064.3,865.2L2065.7,866.7L2067.1,864.8L2068.6,868.8L2070.0,870.5L2071.4,868.4L2072.8,868.2L2074.2,869.5L2075.5,874.3L2076.9,871.1L2078.3,876.0L2080.0,872.8L2081.6,875.5L2083.3,872.8L2085.0,873.2L2086.7,875.6L2088.3,873.1L2090.0,874.3L2091.7,876.6L2093.3,875.4L2095.0,875.8L2096.7,876.0L2098.3,871.5L2100.0,872.1L2101.2,873.4L2102.5,871.9L2103.8,867.9L2105.0,868.8L2106.2,866.4L2107.5,866.2L2108.8,863.6L2110.0,862.1L2111.7,866.2L2113.3,863.2L2115.0,865.5L2116.7,862.1L2118.3,863.6L2120.0,861.9L2121.6,863.1L2123.3,861.9L2124.8,863.3L2126.2,860.1L2127.7,861.9L2129.2,860.0L2130.6,857.5L2132.1,857.7L2133.5,857.5L2135.0,858.5L2136.5,855.3L2138.0,854.0L2139.4,856.5L2140.9,855.4L2142.4,854.0L2143.9,851.2L2145.3,850.1L2146.8,849.7L2148.3,848.1L2149.8,847.0L2151.2,848.0L2152.7,846.5L2154.2,846.1L2155.6,844.2L2157.1,841.6L2158.5,843.6L2160.0,842.4L2161.4,842.8L2162.9,843.8L2164.3,845.4L2165.7,847.6L2167.1,848.1L2168.6,848.3L2170.0,847.9L2171.2,846.3L2172.4,845.6L2173.6,846.8L2174.7,843.1L2175.9,841.9L2177.1,840.8L2178.3,838.4L2180.2,843.0L2182.0,839.5" fill="none" stroke="#ff0000" stroke-width="6" stroke-linejoin="round" stroke-linecap="butt" shape-rendering="crispEdges"/>
<path d="M170.5,1592.8L172.2,1593.8L173.8,1592.7L175.5,1593.4L177.2,1593.2L178.9,1590.5L180.6,1589.9L182.2,1593.2L183.9,1590.4L185.6,1590.0L187.3,1593.0L189.0,1590.4L190.6,1591.7L192.2,1589.9L193.8,1590.4L195.4,1588.0L197.0,1589.9L198.6,1590.7L200.1,1588.9L201.7,1589.6L203.3,1589.1L204.9,1586.2L206.5,1589.0L208.1,1588.0L209.7,1586.3L211.3,1584.6L212.8,1587.8L214.4,1585.6L216.0,1586.2L217.6,1586.4L219.2,1585.2L220.8,1585.7L222.3,1582.9L223.9,1584.2L225.5,1582.1L227.1,1583.8L228.7,1583.3L230.3,1579.5L231.9,1579.3L233.5,1579.4L235.1,1582.4L236.6,1579.7L238.2,1580.2L239.8,1578.5L241.4,1579.1L243.0,1578.2L244.6,1577.8L246.2,1578.5L247.8,1578.0L249.4,1578.9L250.9,1577.5L252.5,1578.1L254.1,1577.3L255.7,1577.4L257.3,1575.5L258.9,1572.8L260.4,1575.4L262.0,1575.4L263.6,1574.7L265.2,1572.7L266.8,1573.0L268.4,1570.5L270.0,1572.9L271.6,1571.5L273.2,1569.9L274.8,1568.6L276.3,1571.7L277.9,1572.0L279.5,1567.7L281.1,1570.6L282.7,1568.5L284.3,1567.1L285.9,1567.1L287.5,1568.5L289.1,1568.3L290.6,1564.1L292.2,1565.9L293.8,1562.8L295.4,1565.1L297.0,1562.8L298.6,1564.6L300.1,1564.4L301.7,1561.7L303.3,1563.2L304.9,1559.7L306.5,1558.2L308.1,1560.0L309.7,1557.0L311.3,1557.3L312.9,1557.7L314.4,1558.1L316.0,1555.6L317.6,1554.6L319.2,1557.8L320.8,1554.9L322.4,1557.2L324.0,1556.7L325.6,1554.2L327.1,1554.3L328.7,1554.4L330.3,1554.7L331.9,1554.2L333.5,1553.8L335.1,1553.9L336.6,1555.0L338.2,1552.9L339.8,1552.3L341.4,1553.4L343.0,1550.9L344.6,1550.9L346.2,1553.6L347.8,1551.2L349.4,1551.0L350.9,1548.4L352.5,1549.8L354.1,1550.2L355.7,1547.4L357.3,1549.7L358.9,1549.5L360.5,1546.7L362.1,1548.8L363.7,1547.8L365.2,1548.4L366.8,1546.7L368.4,1547.9L370.0,1547.7L371.6,1544.3L373.2,1544.1L374.8,1546.5L376.3,1547.5L377.9,1544.0L379.5,1544.6L381.1,1544.8L382.7,1543.2L384.3,1543.0L385.9,1542.4L387.5,1542.2L389.1,1542.8L390.6,1541.1L392.2,1541.1L393.8,1542.4L395.4,1538.7L397.0,1540.7L398.6,1541.0L400.2,1538.8L401.8,1538.0L403.4,1540.1L404.9,1537.3L406.5,1536.6L408.1,1537.3L409.7,1538.1L411.3,1535.0L412.9,1535.6L414.4,1535.3L416.0,1537.1L417.6,1534.9L419.1,1536.1L420.5,1532.4L422.0,1532.5L423.5,1533.2L424.9,1533.6L426.4,1531.1L427.9,1529.4L429.4,1528.3L430.8,1529.4L432.3,1527.3L433.8,1529.4L435.2,1528.8L436.7,1525.3L438.2,1524.8L439.6,1526.3L441.1,1524.7L442.5,1524.5L444.0,1521.6L445.5,1519.8L446.9,1519.6L448.4,1520.9L449.9,1517.7L451.3,1517.2L452.8,1516.6L454.2,1515.7L455.7,1514.8L457.1,1516.1L458.4,1511.8L459.8,1510.2L461.2,1513.4L462.5,1512.1L463.9,1511.6L465.2,1508.3L466.6,1509.6L468.0,1508.5L469.3,1504.5L470.7,1505.8L472.1,1505.3L473.4,1503.6L474.8,1502.0L476.1,1500.0L477.3,1499.2L478.6,1497.7L479.9,1495.9L481.1,1497.2L482.4,1494.9L483.7,1496.2L484.9,1491.8L486.2,1494.6L487.5,1492.6L488.7,1492.6L490.0,1491.5L491.3,1490.5L492.5,1488.1L493.8,1484.6L494.9,1486.6L496.0,1482.8L497.1,1482.1L498.1,1482.5L499.2,1480.7L500.3,1478.9L501.4,1480.0L502.5,1477.4L503.6,1474.9L504.7,1473.3L505.7,1474.8L506.8,1471.9L507.9,1472.0L509.0,1468.8L509.8,1466.7L510.6,1466.8L511.4,1466.6L512.2,1462.4L513.0,1463.7L513.8,1462.8L514.6,1460.9L515.4,1459.5L516.2,1454.5L517.0,1455.8L517.8,1455.4L518.6,1450.4L519.4,1449.9L520.1,1448.3L520.9,1447.9L521.6,1445.9L522.4,1444.6L523.2,1444.4L523.9,1439.5L524.7,1438.2L525.4,1437.0L526.2,1435.4L526.8,1433.6L527.3,1436.1L527.9,1434.0L528.5,1429.1L529.0,1429.3L529.6,1427.0L530.1,1425.4L530.7,1424.0L531.3,1423.8L531.8,1421.9L532.4,1419.4L532.9,1417.1L533.3,1416.1L533.8,1413.6L534.2,1414.0L534.7,1413.1L535.1,1410.0L535.6,1407.2L536.1,1406.0L536.7,1405.4L537.2,1404.8L537.8,1404.1L538.3,1400.8L538.9,1401.1L539.4,1398.7L539.7,1396.3L539.9,1394.4L540.2,1393.3L540.5,1392.6L540.8,1389.7L541.0,1389.3L541.3,1386.6L541.6,1384.0L541.8,1383.7L542.1,1382.8L542.3,1378.3L542.5,1378.2L542.7,1376.6L542.9,1376.9L543.1,1375.5L543.3,1371.3L543.6,1372.0L543.8,1369.8L544.0,1365.8L544.2,1365.0L544.4,1361.9L544.6,1363.2L544.8,1360.9L545.0,1360.2L545.2,1358.1L545.4,1355.9L545.6,1354.6L545.8,1352.1L546.0,1348.4L546.3,1348.9L546.5,1344.7L546.7,1343.6L546.9,1344.7L547.1,1339.8L547.3,1338.4L547.5,1336.7L547.7,1338.5L547.8,1333.7L548.0,1331.4L548.2,1333.3L548.3,1328.5L548.5,1330.0L548.7,1327.6L548.9,1326.6L549.0,1325.5L549.2,1322.2L549.4,1321.5L549.5,1316.4L549.7,1318.0L549.9,1315.2L550.0,1314.4L550.2,1310.1L550.4,1311.2L550.5,1310.4L550.7,1304.9L550.9,1304.3L551.1,1303.7L551.2,1303.2L551.4,1299.0L551.6,1297.0L551.7,1295.7L551.9,1295.6L552.0,1294.5L552.2,1291.3L552.3,1289.5L552.5,1288.0L552.6,1286.1L552.8,1284.7L552.9,1281.6L553.1,1281.7L553.2,1282.2L553.4,1278.0L553.5,1277.8L553.7,1273.6L553.8,1274.2L553.9,1272.9L554.0,1270.8L554.2,1268.5L554.3,1266.7L554.4,1265.7L554.5,1265.1L554.7,1260.2L554.8,1258.3L554.9,1259.5L555.0,1258.5L555.2,1255.1L555.3,1253.1L555.4,1252.7L555.5,1248.6L555.6,1247.3L555.7,1245.4L555.8,1245.4L555.9,1242.5L556.0,1240.5L556.2,1240.9L556.3,1240.3L556.4,1235.8L556.5,1235.9L556.6,1233.0L556.7,1233.2L556.8,1230.4L557.0,1227.3L557.1,1225.5L557.3,1223.0L557.4,1223.4L557.6,1221.3L557.7,1218.8L557.9,1218.0L558.0,1216.1L558.1,1216.4L558.2,1212.0L558.3,1214.0L558.4,1210.1L558.5,1208.9L558.6,1206.7L558.7,1206.6L558.9,1204.9L559.0,1202.0L559.1,1200.0L559.2,1199.4L559.3,1198.3L559.4,1194.6L559.5,1194.4L559.6,1193.7L559.7,1189.9L559.8,1187.1L559.9,1185.5L560.0,1185.9L560.1,1184.0L560.2,1183.6L560.3,1181.5L560.4,1177.1L560.5,1175.2L560.6,1173.8L560.7,1171.8L560.8,1172.4L560.9,1171.4L561.0,1169.9L561.1,1165.4L561.2,1166.4L561.3,1162.3L561.4,1161.1L561.5,1160.7L561.6,1156.2L561.7,1154.6L561.8,1156.2L561.9,1152.1L562.0,1150.7L562.1,1150.0L562.2,1148.8L562.3,1144.1L562.4,1143.9L562.5,1142.7L562.6,1141.2L562.7,1138.3L562.8,1138.3L562.9,1138.3L563.0,1134.1L563.1,1133.1L563.2,1129.5L563.3,1128.5L563.4,1128.6L563.5,1124.5L563.7,1126.2L563.8,1124.6L563.9,1119.3L564.0,1121.4L564.1,1117.2L564.2,1117.3L564.3,1115.5L564.4,1111.8L564.6,1111.8L564.7,1110.0L564.8,1109.0L564.9,1105.0L565.0,1105.4L565.1,1104.6L565.2,1101.7L565.4,1099.4L565.5,1095.9L565.6,1095.9L565.7,1093.6L565.9,1093.5L566.0,1091.6L566.1,1089.5L566.2,1086.1L566.4,1086.4L566.5,1084.7L566.6,1081.0L566.7,1082.5L566.9,1079.7L567.0,1075.7L567.1,1077.6L567.2,1072.4L567.3,1071.6L567.4,1071.6L567.5,1069.4L567.5,1067.5L567.6,1066.3L567.7,1063.7L567.8,1061.4L567.9,1059.1L568.0,1057.0L568.1,1058.1L568.2,1056.6L568.2,1054.0L568.3,1053.2L568.4,1049.8L568.5,1047.8L568.6,1046.6L568.7,1047.1L568.8,1041.7L569.0,1042.1L569.1,1039.3L569.2,1039.9L569.3,1036.4L569.5,1034.6L569.6,1033.3L569.7,1032.2L569.8,1031.5L570.0,1028.0L570.1,1028.5L570.2,1023.6L570.3,1022.6L570.5,1020.2L570.6,1018.6L570.7,1019.8L570.8,1017.9L571.0,1013.8L571.1,1012.2L571.2,1011.5L571.3,1011.3L571.5,1009.9L571.6,1007.9L571.7,1005.5L571.9,1001.9L572.0,1001.3L572.1,998.7L572.3,998.5L572.4,997.0L572.5,993.7L572.6,992.3L572.8,992.9L572.9,987.9L573.0,989.7L573.1,988.5L573.2,987.1L573.4,983.0L573.5,982.1L573.6,980.6L573.7,979.2L573.8,979.1L573.9,976.2L574.0,972.9L574.2,973.7L574.3,970.4L574.4,969.3L574.5,968.3L574.6,963.5L574.7,965.2L574.8,963.1L575.0,960.7L575.1,959.3L575.2,957.4L575.3,954.6L575.4,954.4L575.5,950.6L575.6,951.0L575.7,950.0L575.8,947.5L576.0,946.4L576.1,946.4L576.2,944.5L576.3,939.5L576.4,940.8L576.5,938.4L576.6,934.3L576.7,934.0L576.8,931.8L576.9,929.5L577.0,929.8L577.1,929.9L577.3,925.6L577.4,926.4L577.5,924.0L577.6,919.9L577.7,921.4L577.8,918.6L578.0,918.4L578.1,915.8L578.3,914.2L578.5,910.8L578.6,911.2L578.8,910.1L579.0,908.1L579.1,904.5L579.3,904.3L579.5,901.4L579.6,898.1L579.8,896.1L580.0,894.6L580.1,893.5L580.3,891.6L580.5,891.4L580.6,890.6L580.8,888.2L581.0,886.0L581.1,885.4L581.3,882.2L581.5,881.2L581.6,880.8L581.8,877.5L582.0,874.9L582.1,876.4L582.3,873.9L582.5,870.7L582.6,869.0L582.8,868.0L583.1,866.6L583.5,863.3L583.8,860.6L584.2,859.8L584.5,860.6L584.9,856.1L585.2,855.8L585.6,852.9L585.9,851.2L586.3,849.4L586.6,848.7L587.0,846.0L587.4,843.7L587.9,842.4L588.3,840.9L588.7,840.7L589.1,837.1L589.6,835.3L590.0,835.4L590.4,833.6L591.3,833.3L592.2,828.9L593.2,828.8L594.1,827.2L595.4,827.3L596.6,833.1L597.9,831.6L598.6,832.6L599.3,835.8L600.0,836.0L600.7,839.6L601.4,840.0L602.0,840.6L602.7,841.9L603.4,846.5L604.1,846.1L604.8,849.9L605.5,850.1L606.1,853.7L606.8,852.5L607.5,853.9L607.8,855.6L608.0,859.6L608.2,860.4L608.5,860.8L608.8,861.3L609.0,865.6L609.2,868.4L609.5,868.4L609.8,867.4L610.0,869.2L610.2,871.1L610.5,873.0L610.8,874.1L611.0,875.8L611.2,880.1L611.5,882.8L611.8,881.3L612.0,886.3L612.2,885.8L612.5,888.8L612.7,891.0L612.8,892.7L613.0,890.3L613.2,893.2L613.3,896.1L613.5,899.2L613.6,897.1L613.8,899.6L614.0,903.7L614.1,902.1L614.3,905.0L614.5,906.3L614.6,909.5L614.8,912.2L614.9,910.5L615.1,914.6L615.3,916.2L615.4,918.3L615.6,918.7L615.8,922.0L615.9,921.1L616.1,923.0L616.2,923.8L616.4,927.9L616.6,928.2L616.7,928.9L616.9,930.1L617.1,934.1L617.2,935.2L617.4,937.3L617.6,937.5L617.7,939.6L617.9,939.8L618.0,943.9L618.2,942.5L618.4,946.1L618.5,949.0L618.7,950.2L618.9,949.3L619.0,951.6L619.2,955.9L619.3,956.6L619.5,959.3L619.7,960.9L619.8,960.6L620.0,964.2L620.2,965.2L620.3,965.0L620.5,966.8L620.7,967.1L620.8,970.2L621.0,974.3L621.1,972.2L621.3,975.8L621.5,975.5L621.6,977.0L621.8,981.1L622.0,980.9L622.1,981.7L622.3,983.8L622.4,987.6L622.6,989.0L622.8,988.1L622.9,990.7L623.1,995.5L623.3,993.9L623.4,997.0L623.6,998.0L623.8,1001.2L623.9,1002.1L624.1,1004.5L624.2,1005.0L624.4,1005.1L624.6,1006.7L624.7,1007.9L624.9,1012.8L625.1,1011.3L625.2,1012.6L625.4,1018.4L625.5,1016.6L625.7,1021.3L625.9,1019.4L626.0,1022.7L626.2,1023.2L626.4,1027.5L626.5,1028.2L626.7,1030.0L626.8,1032.1L627.0,1034.2L627.2,1033.6L627.3,1036.3L627.5,1037.3L627.7,1037.4L627.8,1042.2L628.0,1042.8L628.2,1045.4L628.3,1044.4L628.5,1047.5L628.6,1048.8L628.8,1051.5L629.0,1050.3L629.1,1053.1L629.3,1055.4L629.5,1055.2L629.6,1058.9L629.8,1061.4L629.9,1061.6L630.1,1064.2L630.3,1065.7L630.4,1065.6L630.6,1067.8L630.8,1072.3L630.9,1071.0L631.1,1073.1L631.2,1073.2L631.4,1075.4L631.6,1076.7L631.8,1081.7L632.0,1082.4L632.1,1084.7L632.3,1086.8L632.5,1086.7L632.7,1089.8L632.9,1089.6L633.0,1090.7L633.2,1094.7L633.4,1096.1L633.6,1097.9L633.8,1097.4L633.9,1100.3L634.1,1100.3L634.3,1104.5L634.5,1105.8L634.6,1104.6L634.8,1109.1L635.0,1107.4L635.2,1108.6L635.4,1112.9L635.5,1112.7L635.7,1115.3L635.9,1117.4L636.1,1116.4L636.2,1121.1L637.8,1119.4L639.4,1120.4L641.0,1120.4L641.1,1123.9L641.3,1125.6L641.4,1125.3L641.5,1126.2L641.7,1128.8L641.8,1131.0L641.9,1131.3L642.1,1133.3L642.2,1137.7L642.3,1139.1L642.5,1142.1L642.6,1143.8L642.9,1145.1L643.2,1144.6L643.4,1145.3L643.7,1147.7L644.0,1150.1L644.3,1152.1L644.5,1153.9L644.8,1154.8L645.1,1158.7L645.4,1157.9L645.8,1160.4L646.1,1163.9L646.5,1165.3L646.8,1164.8L647.2,1166.2L647.5,1170.4L647.9,1168.6L648.2,1170.9L648.5,1174.3L648.9,1176.1L649.2,1176.2L649.6,1177.4L649.9,1179.8L650.3,1184.0L650.6,1184.3L651.0,1188.3L651.3,1189.2L651.6,1191.7L651.9,1189.3L652.2,1191.7L652.5,1192.6L652.7,1196.2L653.0,1197.5L653.3,1198.0L653.6,1201.9L653.9,1201.6L654.5,1204.3L655.1,1205.7L655.7,1209.8L656.3,1209.8L656.9,1210.8L657.5,1211.6L658.0,1214.8L658.5,1217.3L659.0,1219.0L659.5,1221.6L660.1,1222.7L660.6,1221.8L661.1,1222.8L661.6,1227.1L662.3,1228.7L663.1,1229.0L663.8,1231.9L664.5,1232.1L665.2,1232.4L666.0,1233.4L666.7,1234.2L668.1,1238.3L669.4,1240.8L670.8,1242.2L671.8,1241.5L672.9,1243.6L673.9,1245.9L675.0,1246.7L676.0,1247.0L677.7,1245.5L679.4,1245.2L681.1,1243.1L681.6,1241.4L682.1,1241.9L682.7,1241.5L683.2,1237.8L683.7,1235.5L684.2,1233.5L684.5,1232.2L684.8,1232.0L685.1,1228.7L685.4,1229.2L685.7,1223.9L686.0,1222.8L686.3,1222.0L686.7,1219.8L687.0,1220.1L687.4,1218.3L687.8,1217.1L688.2,1214.0L688.5,1209.8L688.9,1210.5L689.3,1208.7L690.0,1206.7L690.7,1204.1L691.4,1204.3L692.1,1203.4L692.8,1198.2L693.5,1198.9L693.7,1195.9L693.8,1194.8L694.0,1194.8L694.2,1193.4L694.3,1190.3L694.5,1186.6L694.7,1188.1L694.8,1183.1L695.0,1182.3L695.4,1182.5L695.9,1178.6L696.3,1176.6L696.7,1177.9L697.2,1176.2L697.6,1171.7L698.2,1170.3L698.8,1168.1L699.4,1165.7L700.0,1164.5L700.6,1166.0L701.2,1160.3L701.6,1159.3L702.0,1157.5L702.5,1155.2L702.9,1155.5L703.3,1154.8L703.7,1153.5L704.4,1151.1L705.0,1150.5L705.7,1145.4L706.4,1145.2L707.1,1146.7L707.7,1141.3L708.4,1140.7L708.8,1139.9L709.1,1137.3L709.5,1136.9L709.9,1133.0L710.3,1132.2L710.6,1133.7L711.0,1128.4L711.4,1130.1L711.7,1128.6L712.0,1133.9L712.3,1134.2L712.6,1135.8L712.8,1135.3L713.1,1136.6L713.4,1141.4L713.7,1140.6L714.0,1142.3L714.8,1143.5L715.6,1142.1L716.5,1136.8L717.3,1139.2L718.1,1135.7L719.9,1135.0L721.7,1133.8L723.5,1135.0L725.3,1137.6L725.6,1136.2L725.9,1137.2L726.2,1138.9L726.5,1140.5L726.8,1143.1L727.2,1147.2L727.5,1145.2L727.8,1147.3L728.1,1152.3L728.4,1154.2L729.4,1152.6L730.5,1147.8L731.5,1146.7L732.5,1147.8L734.0,1146.8L735.6,1148.7L737.2,1148.1L738.7,1147.8L739.5,1147.6L740.3,1147.7L741.2,1146.2L742.0,1143.6L742.8,1141.5L744.1,1142.9L745.3,1143.5L746.6,1144.9L747.9,1147.3L748.9,1142.9L750.0,1143.1L751.0,1143.1L752.0,1141.1L752.6,1136.5L753.2,1138.4L753.9,1136.2L754.5,1131.6L755.1,1130.4L755.5,1128.3L755.8,1125.9L756.2,1128.2L756.6,1124.0L757.0,1124.3L757.3,1119.2L757.7,1117.0L757.9,1119.1L758.1,1117.0L758.3,1116.2L758.5,1113.2L758.6,1110.8L758.8,1110.2L759.0,1105.6L759.2,1105.9L760.2,1104.2L761.3,1101.6L762.4,1102.3L763.4,1099.8L764.1,1098.9L764.8,1096.6L765.5,1094.6L766.1,1093.1L766.8,1092.5L767.5,1092.4L767.7,1090.5L767.8,1088.5L768.0,1086.6L768.2,1082.5L768.3,1083.8L768.5,1079.0L768.7,1076.7L768.8,1076.7L769.0,1076.0L769.2,1072.6L769.3,1072.3L769.5,1069.0L769.7,1070.4L769.8,1066.5L770.0,1064.9L770.2,1063.5L770.5,1063.3L770.8,1062.1L771.0,1058.5L771.2,1056.4L771.5,1055.5L771.8,1051.4L772.0,1051.3L772.2,1051.5L772.5,1049.6L772.8,1044.7L773.0,1046.6L773.2,1042.8L773.5,1043.8L773.8,1039.4L774.1,1037.1L774.4,1036.9L774.7,1036.7L775.0,1033.0L775.3,1033.3L775.6,1030.9L775.9,1027.7L776.2,1025.8L776.6,1025.0L776.9,1022.9L777.2,1021.1L777.5,1020.7L777.8,1020.0L778.0,1017.0L778.2,1013.4L778.5,1012.1L778.8,1011.1L779.0,1010.5L779.2,1006.7L779.5,1004.8L779.8,1004.2L780.0,1002.4L780.2,999.6L780.5,1000.2L780.8,1000.2L781.0,996.8L781.2,996.0L781.5,994.8L781.8,993.2L782.0,991.8L782.2,988.1L782.5,987.5L782.8,983.3L783.0,985.0L783.2,981.1L783.5,979.9L783.8,980.1L784.0,975.7L784.2,973.6L784.5,974.8L784.8,972.1L785.0,968.2L785.2,966.3L785.3,966.0L785.5,962.8L785.7,964.8L785.8,960.3L786.0,959.0L786.2,957.8L786.3,956.7L786.5,954.7L786.7,953.9L786.8,952.4L787.0,949.7L787.2,946.6L787.3,948.8L787.5,945.8L787.8,941.5L788.0,941.4L788.2,941.1L788.5,940.5L788.8,934.8L789.0,932.8L789.2,933.2L789.5,931.3L789.8,931.7L790.0,929.8L790.2,925.9L790.5,924.6L790.8,923.7L791.0,923.4L791.2,918.7L791.5,917.9L791.8,914.9L792.0,915.6L792.2,911.3L792.5,913.6L792.8,910.1L793.0,908.7L793.2,904.8L793.5,903.8L793.8,903.2L794.0,903.2L794.2,900.2L794.5,897.4L794.8,898.8L795.0,895.7L795.2,893.5L795.5,890.4L795.8,889.1L796.0,890.1L796.2,885.1L796.5,885.1L796.8,883.9L797.0,881.0L797.2,881.2L797.5,880.1L797.8,878.2L798.0,876.0L798.2,872.0L798.5,869.7L798.8,869.7L799.3,867.5L799.9,865.3L800.4,866.6L801.0,862.1L801.5,863.1L802.1,861.9L802.2,856.6L802.3,858.5L802.5,854.5L802.6,852.0L802.7,850.2L802.8,847.9L802.9,848.2L803.0,846.0L803.2,846.4L803.3,844.6L803.4,839.6L803.6,839.4L803.7,837.8L803.9,835.2L804.0,833.9L804.2,832.4L804.4,832.6L804.5,829.5L804.7,826.8L804.8,825.7L805.0,825.0L805.3,823.8L805.7,820.7L806.0,820.9L806.4,817.1L806.7,817.3L807.1,815.3L807.4,811.7L807.7,812.5L808.0,809.2L808.3,808.1L808.5,806.6L808.8,805.0L809.1,802.5L809.4,799.0L809.8,800.6L810.2,799.3L810.6,796.1L811.1,794.9L811.5,791.9L811.9,793.1L812.3,790.4L812.7,786.6L813.1,787.5L813.5,786.5L813.9,781.9L814.3,783.0L814.7,779.0L815.0,776.0L815.3,776.6L815.6,773.2L815.9,773.2L816.2,770.8L816.5,767.0L816.8,767.1L817.1,766.8L818.1,763.6L819.0,762.3L820.0,762.1L820.8,762.2L821.6,764.3L822.4,766.6L822.8,765.9L823.1,761.5L823.5,759.3L823.8,760.5L824.2,757.9L824.5,755.1L824.9,755.9L825.2,754.2L825.6,751.0L826.1,754.6L826.5,755.5L827.0,756.7L827.5,756.3L828.0,756.7L828.4,761.3L828.9,763.1L829.1,759.8L829.2,758.8L829.4,757.5L829.5,754.5L829.7,754.9L829.9,752.7L830.0,750.3L830.2,747.4L830.3,747.8L830.5,745.1L831.5,748.5L832.4,747.7L833.4,750.3L834.3,751.0L835.3,753.6L836.1,752.9L837.0,749.4L837.8,747.8L838.6,748.2L838.8,748.7L839.1,751.8L839.3,752.1L839.5,753.5L839.7,757.2L840.0,760.6L840.2,762.1L840.8,762.2L841.5,763.3L842.1,763.5L842.8,766.0L843.4,767.8L843.5,772.3L843.7,770.4L843.8,775.8L843.9,775.4L844.0,777.0L844.2,777.9L844.3,782.7L844.7,781.1L845.1,784.5L845.5,786.0L845.9,786.4L846.3,788.3L846.7,793.4L846.9,794.3L847.0,795.8L847.1,798.2L847.3,796.4L847.5,800.8L847.6,802.7L847.8,802.1L847.9,804.8L848.5,808.7L849.0,807.5L849.6,811.0L850.1,810.0L850.7,813.8L850.9,813.7L851.0,816.4L851.2,817.4L851.3,821.2L851.5,822.3L851.7,822.8L851.8,825.3L852.0,825.7L852.1,829.0L852.3,828.2L852.8,831.1L853.3,832.9L853.8,833.7L854.3,833.8L854.8,835.9L855.1,839.6L855.4,839.4L855.8,843.4L856.1,843.9L856.4,847.5L856.6,845.4L856.9,843.3L857.1,840.1L857.4,837.0L857.6,837.6L857.8,836.9L858.1,836.0L858.3,831.2L858.6,829.4L858.8,831.4L859.3,832.0L859.8,832.5L860.3,835.2L860.8,834.2L861.3,837.6L862.3,839.8L863.2,841.1L864.2,840.8L865.1,842.3L866.1,846.0L866.7,845.5L867.3,840.5L867.9,838.1L868.4,836.8L869.0,838.1L869.6,834.6L870.2,833.2L870.8,837.2L871.5,837.1L872.1,837.2L872.8,840.8L873.4,839.3L873.6,838.9L873.7,839.1L873.9,835.2L874.0,833.0L874.2,833.5L874.4,831.0L874.5,832.2L874.7,826.8L874.8,828.2L875.0,824.8L875.8,825.0L876.6,821.8L877.5,821.2L878.3,818.1L879.1,816.0L880.4,815.6L881.8,815.8L883.1,812.4L885.2,813.1L887.2,815.1L887.5,815.5L887.9,818.2L888.2,821.0L888.6,822.7L888.9,824.6L889.3,825.0L889.6,825.6L891.6,826.4L893.6,828.6L894.9,829.2L896.1,832.0L896.4,832.3L896.6,836.1L896.9,837.0L897.2,838.9L897.4,840.9L897.7,841.6L898.0,842.8L898.3,843.9L898.7,844.4L899.0,849.3L899.3,849.6L900.0,849.5L900.6,854.7L901.3,854.8L901.9,856.6L902.6,857.4L902.9,857.7L903.1,863.2L903.4,861.2L903.7,863.8L904.0,868.2L904.2,866.0L904.5,869.3L904.8,870.9L905.1,871.6L905.3,876.2L905.6,875.6L906.0,875.5L906.4,879.2L906.8,878.8L907.3,883.6L907.7,886.0L908.1,887.8L908.5,885.7L908.9,890.1L909.3,890.2L909.8,892.6L910.2,893.5L910.6,895.2L911.0,896.1L911.7,899.7L912.4,898.8L913.2,904.1L913.9,901.5L914.6,907.0L915.3,905.0L916.1,906.0L916.8,910.3L917.5,910.8L919.1,913.0L920.8,912.9L922.4,914.5L924.0,913.2L924.3,917.4L924.7,918.3L925.0,921.9L925.4,919.3L925.7,921.2L926.0,925.5L926.4,928.3L926.7,927.7L927.0,930.6L927.4,931.5L927.7,932.4L928.0,934.3L928.4,936.6L928.7,935.7L929.1,938.5L929.4,942.0L930.2,941.5L930.9,944.0L931.7,944.6L932.5,946.6L933.3,949.4L934.0,951.4L934.8,953.9L935.4,953.3L936.1,953.7L936.7,955.8L937.3,956.1L937.9,958.5L938.6,961.5L939.2,963.2L939.4,960.0L939.5,958.1L939.7,956.1L939.9,954.9L940.0,954.7L940.2,952.1L940.4,953.2L940.5,950.2L940.7,947.6L940.9,946.4L941.1,943.1L941.2,944.6L941.4,943.1L941.6,939.8L941.7,939.8L941.9,936.2L942.1,934.4L942.2,932.8L942.4,931.1L942.7,931.2L943.1,929.7L943.4,928.4L943.8,924.0L944.1,925.2L944.4,922.3L944.8,920.2L945.1,919.1L945.4,917.1L945.8,914.4L946.1,913.6L946.5,913.0L946.8,911.6L946.9,910.9L946.9,906.2L947.0,907.6L947.0,905.6L947.1,903.6L947.1,903.2L947.2,897.9L947.3,899.1L947.3,898.1L947.4,893.0L947.4,893.5L947.5,893.5L947.6,889.0L947.6,889.9L947.7,888.5L947.7,884.8L947.8,881.9L947.8,880.6L947.9,881.8L948.1,878.3L948.2,876.2L948.4,875.0L948.5,875.5L948.7,870.9L948.9,868.2L949.0,870.6L949.2,866.1L949.4,864.8L949.5,865.7L949.7,861.0L949.8,858.4L950.0,860.3L951.1,858.9L951.2,857.1L951.2,858.6L951.3,853.8L951.4,855.0L951.5,850.9L951.5,849.0L951.6,847.0L951.7,846.7L951.8,845.1L951.8,842.7L951.9,841.5L952.0,839.0L952.1,839.7L952.2,838.5L952.3,836.1L952.3,834.8L952.4,829.9L952.5,829.1L952.6,827.2L952.7,825.4L952.8,827.4L952.9,825.5L953.0,823.9L953.0,820.7L953.1,817.1L953.2,816.9L953.3,813.6L953.4,815.7L953.4,811.3L953.5,809.8L953.6,811.1L953.7,806.2L953.8,807.7L953.8,803.4L953.9,803.3L954.0,799.3L954.1,801.1L954.2,797.3L954.2,795.5L954.3,795.2L954.4,793.3L954.5,790.2L954.6,788.0L954.6,788.4L954.7,784.3L954.8,786.4L954.9,782.5L955.0,780.1L955.0,779.2L955.1,776.6L955.2,775.9L955.3,775.3L955.4,773.1L955.4,771.1L955.5,769.3L955.6,768.5L955.7,768.2L955.8,765.1L955.8,764.9L955.9,762.0L956.0,758.8L956.1,757.4L956.2,758.8L956.2,755.5L956.3,753.5L956.4,752.5L956.5,752.3L956.6,748.6L956.6,746.9L956.7,745.3L956.8,742.1L956.9,742.9L957.0,741.0L957.0,739.4L957.1,737.6L957.2,736.1L957.3,735.5L957.4,731.6L957.4,733.5L957.5,728.0L957.6,729.7L958.0,724.9L958.3,725.9L958.7,721.8L959.1,719.2L959.4,719.5L959.8,719.1L960.0,717.5L960.1,716.0L960.3,714.8L960.4,709.1L960.6,708.9L960.8,706.1L960.9,707.3L961.1,704.4L961.2,704.0L961.4,702.7L961.6,701.9L961.7,698.9L961.9,698.1L962.0,695.1L962.2,691.4L962.4,693.3L962.5,688.2L962.7,686.5L962.8,688.2L963.0,684.1L963.2,684.1L963.3,679.7L963.5,678.8L963.7,679.4L963.8,674.7L964.0,675.1L964.2,675.3L964.4,670.5L964.5,671.0L964.7,669.5L964.9,667.3L965.0,666.2L965.2,664.3L965.6,659.6L965.9,658.7L966.3,658.5L966.7,658.7L967.0,653.7L967.4,653.6L967.8,649.9L968.1,651.4L968.5,648.0L969.2,646.8L969.9,646.0L970.6,642.3L971.4,643.4L972.1,642.3L972.8,641.1L974.4,639.6L976.0,640.5L977.7,641.3L979.3,645.7L979.8,645.3L980.2,646.7L980.6,648.9L981.1,651.3L981.5,651.2L982.0,652.9L982.5,656.4L982.9,658.1L983.4,657.6L983.8,658.3L984.2,663.7L984.7,664.4L985.0,665.5L985.2,666.3L985.5,670.4L985.7,669.8L986.0,670.5L986.2,671.7L986.5,674.4L986.7,677.2L987.0,677.8L987.2,682.1L987.5,682.4L987.7,683.2L988.0,685.8L988.2,687.2L988.3,688.9L988.5,690.0L988.6,691.7L988.8,693.2L989.0,696.3L989.1,695.1L989.3,699.4L989.4,698.8L989.6,702.9L989.8,701.1L989.9,704.5L990.1,706.0L990.2,708.8L990.4,708.2L990.6,710.1L990.7,711.1L990.9,714.6L991.0,716.3L991.2,715.4L991.3,717.8L991.4,719.5L991.5,724.5L991.6,723.9L991.8,726.0L991.9,726.5L992.0,729.7L992.1,732.0L992.2,733.0L992.3,731.7L992.4,735.3L992.5,737.1L992.6,736.8L992.7,741.7L992.9,741.3L993.0,742.8L993.1,745.9L993.2,747.3L993.3,748.6L993.4,751.8L993.6,751.9L993.8,752.8L994.0,753.3L994.2,757.1L994.4,757.9L994.6,760.3L994.8,761.1L995.0,761.3L995.1,763.1L995.3,765.3L995.5,766.7L995.7,771.7L995.9,772.1L996.1,772.3L996.3,776.0L996.5,777.3L996.7,776.5L996.8,781.1L996.9,780.4L997.0,785.4L997.1,783.2L997.2,785.5L997.2,786.9L997.3,791.2L997.4,792.6L997.5,793.1L997.6,792.9L997.7,795.7L997.8,798.5L997.9,797.3L998.0,802.7L998.1,803.9L998.2,805.9L998.3,806.5L998.3,807.7L998.4,810.9L998.5,809.4L998.6,811.1L998.7,811.9L998.8,813.8L999.0,818.1L999.1,816.7L999.3,821.2L999.5,821.3L999.6,825.0L999.8,826.1L1000.0,827.4L1000.1,829.8L1000.3,827.9L1000.5,830.5L1000.6,832.6L1000.8,834.4L1000.9,837.1L1001.1,839.7L1001.3,840.7L1001.4,843.2L1001.6,843.8L1001.8,843.9L1001.9,846.2L1002.1,848.9L1002.3,850.8L1002.5,850.5L1002.7,852.1L1002.9,854.9L1003.0,854.9L1003.2,859.4L1003.4,857.2L1003.6,861.7L1003.8,862.7L1004.0,863.0L1004.2,866.4L1004.4,867.6L1004.5,871.4L1004.7,872.7L1004.9,873.1L1005.1,876.0L1005.3,877.7L1005.5,876.2L1005.7,880.7L1006.0,882.3L1006.2,884.7L1006.4,885.3L1006.6,885.3L1006.8,886.1L1007.1,889.7L1007.3,889.4L1007.5,893.4L1007.7,894.2L1007.9,896.9L1008.2,896.5L1008.4,897.9L1008.6,902.2L1008.8,902.7L1009.0,903.1L1009.3,905.5L1009.5,906.6L1009.7,909.1L1009.9,910.2L1010.1,910.8L1010.3,915.5L1010.5,916.7L1010.7,917.8L1010.9,917.3L1011.1,918.5L1011.3,922.5L1011.5,924.5L1011.7,925.4L1011.9,925.1L1012.1,929.0L1012.3,929.7L1012.5,930.7L1012.7,933.3L1012.9,934.3L1013.2,936.8L1013.4,938.9L1013.7,941.6L1013.9,939.4L1014.2,943.1L1014.5,946.4L1014.7,946.8L1015.0,948.1L1015.2,951.0L1015.5,949.0L1015.7,954.0L1016.0,954.9L1016.3,956.4L1016.5,956.9L1016.8,959.9L1017.0,959.4L1017.3,962.8L1017.5,963.2L1017.6,967.8L1017.8,968.9L1017.9,969.0L1018.1,971.9L1018.3,971.8L1018.4,974.0L1018.6,974.1L1018.7,978.7L1018.9,979.9L1019.0,981.5L1019.2,980.1L1019.4,985.0L1019.5,983.0L1019.7,987.1L1019.8,988.3L1020.0,988.1L1020.2,991.3L1020.4,994.9L1020.5,995.4L1020.7,995.6L1020.9,999.4L1021.1,999.0L1021.2,1003.0L1021.4,1002.4L1021.6,1002.6L1021.8,1008.1L1022.0,1005.8L1022.1,1008.2L1022.3,1012.1L1022.5,1010.8L1022.7,1014.3L1022.9,1017.3L1023.0,1017.7L1023.2,1018.3L1023.4,1021.7L1023.6,1023.6L1023.8,1024.1L1023.9,1025.9L1024.1,1026.2L1024.3,1028.2L1024.5,1032.3L1024.6,1033.9L1024.8,1031.2L1025.0,1033.7L1025.2,1035.4L1025.4,1039.5L1025.5,1038.5L1025.7,1040.0L1025.9,1044.2L1026.1,1043.2L1026.2,1048.4L1026.4,1047.7L1026.6,1051.2L1026.8,1052.5L1027.0,1051.4L1027.1,1055.5L1027.3,1055.5L1027.5,1056.3L1027.7,1057.1L1027.9,1061.6L1028.0,1062.6L1028.2,1063.1L1028.4,1067.0L1028.6,1065.8L1028.8,1068.5L1028.9,1068.5L1029.1,1071.3L1029.3,1075.3L1029.5,1075.2L1029.6,1075.3L1029.8,1077.2L1030.0,1080.6L1030.2,1080.6L1030.3,1084.9L1030.5,1082.8L1030.7,1088.0L1030.9,1088.5L1031.0,1091.0L1031.2,1090.5L1031.4,1090.8L1031.5,1092.9L1031.7,1096.5L1031.9,1095.4L1032.0,1097.4L1032.2,1101.9L1032.4,1103.9L1032.6,1105.4L1032.7,1106.9L1032.9,1107.3L1033.1,1110.3L1033.2,1111.1L1033.4,1112.1L1033.6,1113.1L1033.8,1112.9L1034.1,1114.9L1034.4,1117.2L1034.8,1119.8L1035.1,1120.0L1035.4,1125.4L1035.8,1125.3L1036.1,1127.7L1036.4,1130.1L1036.8,1128.8L1037.1,1133.4L1037.4,1135.3L1037.8,1134.0L1038.1,1135.0L1038.4,1139.7L1038.8,1141.7L1038.9,1142.9L1039.1,1142.8L1039.3,1145.3L1039.5,1144.8L1039.7,1147.0L1039.9,1149.4L1040.1,1152.5L1040.2,1151.2L1040.4,1156.5L1040.6,1154.2L1040.8,1159.9L1041.0,1158.3L1041.2,1162.5L1041.4,1164.1L1041.6,1166.4L1041.8,1165.9L1041.9,1168.5L1042.1,1168.3L1042.3,1172.3L1042.5,1170.8L1042.8,1175.8L1043.0,1176.2L1043.2,1175.4L1043.5,1180.9L1043.8,1179.8L1044.0,1180.3L1044.2,1182.8L1044.5,1183.4L1044.8,1186.2L1045.0,1189.7L1045.2,1192.5L1045.5,1192.6L1045.8,1195.2L1046.0,1196.7L1046.2,1197.8L1046.5,1198.0L1046.8,1199.0L1047.0,1200.2L1047.2,1203.6L1047.5,1203.7L1048.0,1207.6L1048.5,1207.3L1048.9,1210.0L1049.4,1211.4L1049.9,1213.3L1050.4,1212.7L1050.9,1214.7L1051.3,1218.1L1051.8,1217.6L1052.3,1221.1L1052.8,1224.0L1053.3,1223.0L1053.8,1227.0L1054.2,1227.1L1054.6,1230.2L1055.1,1229.9L1055.5,1232.5L1056.0,1233.8L1056.4,1233.3L1056.9,1236.3L1057.3,1238.2L1057.8,1239.3L1058.2,1241.8L1058.7,1244.5L1059.1,1245.6L1059.6,1247.3L1060.0,1245.9L1060.6,1250.1L1061.1,1251.4L1061.7,1254.4L1062.2,1252.0L1062.8,1254.4L1063.3,1259.6L1063.9,1258.6L1064.4,1261.7L1065.0,1262.9L1066.4,1263.1L1067.9,1264.4L1069.3,1266.0L1070.7,1268.9L1072.1,1268.0L1073.6,1270.2L1075.0,1269.1L1075.8,1269.4L1076.5,1267.5L1077.2,1266.6L1078.0,1265.7L1078.8,1260.7L1079.5,1263.1L1080.2,1260.0L1081.0,1256.9L1081.8,1256.3L1082.5,1253.2L1084.2,1253.0L1085.8,1254.8L1087.5,1253.4L1089.2,1253.3L1090.8,1249.3L1092.5,1248.3L1093.0,1247.9L1093.4,1246.8L1093.9,1246.2L1094.3,1242.7L1094.8,1243.1L1095.2,1240.8L1095.7,1237.9L1096.1,1238.5L1096.6,1233.8L1097.0,1234.5L1097.5,1231.1L1098.1,1228.9L1098.6,1229.2L1099.2,1227.8L1099.8,1226.6L1100.3,1224.0L1100.9,1224.8L1101.5,1222.6L1102.0,1218.3L1102.6,1216.0L1103.2,1218.6L1103.8,1214.6L1104.2,1211.6L1104.6,1210.2L1105.0,1210.9L1105.4,1206.9L1105.8,1206.1L1106.2,1205.8L1106.7,1202.7L1107.1,1202.3L1107.5,1202.0L1107.9,1199.6L1108.3,1197.2L1108.8,1195.6L1109.0,1192.6L1109.3,1192.4L1109.6,1190.8L1109.8,1189.0L1110.1,1186.9L1110.4,1186.5L1110.6,1182.4L1110.9,1183.1L1111.2,1182.6L1111.4,1176.9L1111.7,1176.2L1112.0,1177.9L1112.2,1172.3L1112.5,1173.9L1112.8,1171.2L1113.0,1167.4L1113.3,1168.2L1113.6,1163.9L1113.8,1166.0L1114.1,1162.0L1114.4,1163.1L1114.6,1161.4L1114.9,1156.4L1115.2,1156.0L1115.4,1153.3L1115.7,1154.3L1116.0,1149.8L1116.2,1148.1L1116.5,1146.6L1116.8,1148.2L1117.0,1143.9L1117.2,1142.6L1117.5,1141.4L1117.8,1140.2L1118.0,1138.0L1118.2,1138.6L1118.5,1134.3L1118.8,1133.2L1119.0,1133.3L1119.2,1128.9L1119.5,1126.9L1119.8,1128.1L1120.0,1124.2L1120.3,1125.1L1120.7,1123.1L1121.0,1119.4L1121.3,1117.6L1121.7,1114.9L1122.0,1116.6L1122.3,1113.1L1122.7,1111.0L1123.0,1108.6L1123.3,1107.1L1123.7,1108.3L1124.0,1103.4L1124.3,1103.6L1124.7,1102.2L1125.0,1100.1L1125.4,1098.3L1125.8,1096.2L1126.2,1093.6L1126.7,1094.7L1127.1,1093.4L1127.5,1090.3L1127.9,1087.2L1128.3,1088.5L1128.8,1083.7L1129.5,1082.1L1130.2,1082.6L1131.0,1082.0L1131.8,1079.3L1132.5,1075.8L1133.2,1078.1L1134.0,1073.0L1134.8,1072.3L1135.5,1073.6L1136.2,1071.3L1136.8,1069.5L1137.4,1065.0L1138.0,1066.8L1138.5,1063.2L1139.1,1059.9L1139.7,1061.7L1140.2,1060.8L1140.8,1055.3L1141.4,1055.5L1141.9,1055.9L1142.5,1051.8L1143.5,1050.1L1144.5,1050.7L1145.5,1047.7L1146.5,1048.7L1147.5,1046.6L1149.4,1046.0L1151.2,1044.7L1153.1,1041.8L1155.0,1043.3L1156.7,1042.0L1158.3,1040.8L1160.0,1040.3L1160.6,1037.6L1161.2,1035.5L1161.9,1037.1L1162.5,1033.2L1163.1,1030.5L1163.8,1032.7L1164.4,1029.1L1165.0,1028.3L1165.2,1025.1L1165.3,1022.6L1165.5,1021.8L1165.7,1022.3L1165.8,1018.2L1166.0,1019.3L1166.2,1015.0L1166.3,1015.9L1166.5,1011.1L1166.7,1010.6L1166.8,1007.5L1167.0,1006.0L1167.2,1005.9L1167.3,1003.6L1167.5,1002.7L1167.8,999.6L1168.1,998.4L1168.4,996.9L1168.7,997.8L1169.0,992.6L1169.3,992.4L1169.6,992.7L1169.9,989.9L1170.1,986.9L1170.4,988.5L1170.7,983.0L1171.0,981.5L1171.3,979.3L1171.6,979.6L1171.9,979.8L1172.2,975.7L1172.5,974.1L1173.0,974.7L1173.4,969.9L1173.9,968.0L1174.4,969.2L1174.8,965.1L1175.3,965.4L1175.8,962.1L1176.2,962.4L1176.8,965.1L1177.2,964.9L1177.8,965.7L1178.2,968.7L1178.8,970.6L1179.2,969.4L1179.8,971.7L1180.2,973.9L1180.8,976.0L1181.2,976.5L1181.4,979.8L1181.5,979.6L1181.7,984.1L1181.8,983.2L1182.0,984.3L1182.2,985.2L1182.3,987.1L1182.5,989.0L1182.6,993.6L1182.8,993.1L1182.9,994.8L1183.0,998.7L1183.2,1000.4L1183.3,1001.1L1183.5,1000.4L1183.7,1002.3L1183.8,1004.7L1184.0,1005.2L1184.1,1007.2L1184.2,1008.2L1184.4,1010.0L1184.5,1013.8L1184.7,1014.8L1184.8,1015.7L1185.0,1017.4L1185.1,1019.6L1185.2,1021.5L1185.3,1020.3L1185.4,1025.5L1185.6,1025.4L1185.7,1026.5L1185.8,1030.8L1185.9,1031.6L1186.0,1031.4L1186.1,1031.6L1186.2,1035.0L1186.3,1036.6L1186.4,1038.0L1186.5,1038.4L1186.7,1042.1L1186.8,1042.3L1186.9,1046.2L1187.0,1046.7L1187.1,1047.3L1187.2,1051.3L1187.3,1051.2L1187.4,1051.3L1187.5,1053.7L1187.6,1054.4L1187.8,1057.6L1187.9,1061.4L1188.0,1063.1L1188.1,1063.5L1188.2,1062.9L1188.3,1064.9L1188.4,1066.3L1188.5,1068.7L1188.6,1071.5L1188.8,1070.4L1188.8,1074.1L1188.9,1075.4L1189.0,1078.0L1189.1,1080.4L1189.2,1080.1L1189.2,1082.6L1189.3,1082.8L1189.4,1085.2L1189.5,1087.6L1189.6,1086.7L1189.6,1090.3L1189.7,1091.9L1189.8,1092.1L1189.9,1094.0L1190.0,1098.1L1190.0,1097.6L1190.1,1098.6L1190.2,1100.6L1190.3,1103.2L1190.4,1104.3L1190.4,1105.7L1190.5,1107.2L1190.6,1108.3L1190.7,1111.2L1190.8,1113.3L1190.8,1112.6L1190.9,1116.4L1191.0,1116.8L1191.1,1121.4L1191.2,1122.8L1191.2,1120.9L1191.4,1125.0L1191.5,1125.0L1191.6,1125.6L1191.7,1130.6L1191.9,1132.4L1192.0,1133.4L1192.1,1134.4L1192.2,1137.5L1192.3,1137.3L1192.5,1139.4L1192.6,1140.9L1192.7,1143.4L1192.8,1145.0L1192.9,1144.2L1193.1,1145.4L1193.2,1148.5L1193.3,1150.3L1193.4,1150.9L1193.5,1154.7L1193.7,1156.3L1193.8,1157.2L1193.9,1158.1L1194.0,1160.5L1194.2,1159.9L1194.3,1164.2L1194.4,1162.8L1194.5,1167.8L1194.6,1168.2L1194.8,1168.3L1194.9,1169.5L1195.0,1172.9L1195.1,1174.0L1195.3,1176.6L1195.4,1175.6L1195.6,1180.7L1195.7,1180.4L1195.9,1182.0L1196.0,1185.0L1196.2,1186.0L1196.3,1187.0L1196.4,1187.9L1196.6,1190.3L1196.7,1190.1L1196.9,1192.7L1197.0,1196.8L1197.2,1195.3L1197.3,1196.8L1197.5,1201.8L1197.6,1201.4L1197.7,1203.7L1197.9,1205.6L1198.0,1207.8L1198.2,1207.7L1198.3,1211.3L1198.5,1209.5L1198.6,1214.9L1198.8,1214.2L1199.0,1217.2L1199.2,1217.4L1199.4,1221.0L1199.6,1221.0L1199.8,1223.6L1200.1,1224.0L1200.3,1227.9L1200.5,1229.3L1200.7,1228.4L1200.9,1232.4L1201.1,1234.9L1201.4,1233.4L1201.6,1234.8L1201.8,1239.7L1202.0,1241.5L1202.2,1239.5L1202.4,1243.9L1202.7,1246.2L1202.9,1244.9L1203.1,1248.8L1203.3,1248.3L1203.5,1252.1L1203.8,1252.5L1204.2,1254.0L1204.6,1254.2L1205.0,1258.2L1205.4,1260.0L1205.8,1259.9L1206.2,1260.5L1206.7,1262.4L1207.1,1264.8L1207.5,1269.7L1207.9,1270.2L1208.3,1272.6L1208.8,1273.6L1209.5,1272.5L1210.3,1275.1L1211.1,1279.2L1211.9,1280.3L1212.7,1282.5L1213.4,1283.3L1214.2,1284.4L1215.0,1286.2L1216.2,1288.1L1217.5,1287.2L1218.8,1286.7L1220.0,1289.2L1221.2,1289.1L1222.5,1291.5L1223.8,1291.6L1225.0,1289.0L1226.2,1287.6L1227.5,1285.7L1228.8,1285.6L1230.0,1285.1L1230.2,1283.7L1230.5,1283.6L1230.8,1278.1L1231.0,1277.3L1231.2,1274.8L1231.5,1276.9L1231.8,1273.9L1232.0,1272.4L1232.2,1271.4L1232.5,1266.1L1232.8,1268.4L1233.0,1264.3L1233.2,1263.9L1233.5,1261.2L1233.8,1261.1L1233.9,1257.5L1234.1,1255.7L1234.2,1253.9L1234.4,1254.3L1234.6,1251.5L1234.8,1248.5L1234.9,1247.7L1235.1,1247.0L1235.2,1244.4L1235.4,1243.7L1235.6,1243.2L1235.8,1240.6L1235.9,1239.7L1236.1,1235.8L1236.2,1236.6L1236.4,1235.3L1236.5,1231.9L1236.6,1228.0L1236.7,1226.7L1236.8,1228.0L1236.9,1226.8L1237.0,1224.6L1237.1,1222.0L1237.2,1220.5L1237.3,1217.0L1237.4,1217.5L1237.6,1217.6L1237.7,1212.5L1237.8,1212.7L1237.9,1212.1L1238.0,1209.6L1238.1,1206.6L1238.2,1204.5L1238.3,1205.0L1238.4,1204.3L1238.5,1202.4L1238.6,1198.7L1238.8,1198.6L1238.9,1197.2L1239.0,1193.7L1239.1,1193.7L1239.2,1190.5L1239.3,1188.0L1239.4,1185.5L1239.5,1187.1L1239.6,1185.6L1239.7,1180.8L1239.8,1179.3L1239.9,1178.8L1240.1,1176.7L1240.2,1177.3L1240.3,1173.3L1240.4,1173.4L1240.5,1171.6L1240.6,1169.1L1240.7,1169.7L1240.8,1166.2L1240.9,1164.9L1241.0,1164.0L1241.1,1161.2L1241.2,1158.6L1241.4,1160.4L1241.5,1157.8L1241.6,1155.3L1241.7,1153.5L1241.8,1152.4L1241.9,1149.3L1242.0,1146.7L1242.1,1147.2L1242.2,1147.1L1242.3,1141.9L1242.4,1144.2L1242.6,1139.9L1242.7,1141.0L1242.8,1138.4L1242.9,1134.5L1243.0,1132.6L1243.1,1134.0L1243.2,1132.8L1243.3,1130.4L1243.4,1127.8L1243.5,1126.0L1243.6,1125.4L1243.8,1123.9L1244.2,1122.4L1244.7,1118.4L1245.2,1119.3L1245.6,1118.2L1246.1,1115.0L1246.6,1111.0L1247.0,1110.2L1247.5,1110.7L1249.0,1108.7L1250.5,1109.8L1252.0,1107.6L1253.5,1106.9L1255.0,1103.5L1255.3,1103.4L1255.6,1102.6L1255.9,1101.8L1256.2,1100.1L1256.6,1095.6L1256.9,1095.0L1257.2,1095.4L1257.5,1089.9L1257.8,1088.1L1258.1,1086.9L1258.4,1087.7L1258.8,1084.2L1259.1,1084.2L1259.4,1083.1L1259.7,1081.4L1260.0,1076.3L1260.3,1077.5L1260.6,1076.3L1260.9,1074.2L1261.2,1073.3L1261.6,1071.4L1261.9,1068.8L1262.2,1068.3L1262.5,1065.2L1262.9,1061.6L1263.3,1060.7L1263.8,1061.9L1264.2,1057.6L1264.6,1056.5L1265.0,1056.6L1265.4,1054.1L1265.8,1052.9L1266.2,1049.9L1266.6,1051.7L1266.9,1051.5L1267.2,1053.7L1267.6,1055.2L1267.9,1058.5L1268.2,1060.1L1268.6,1059.8L1268.9,1063.9L1269.2,1063.2L1269.6,1066.2L1269.9,1066.2L1270.2,1069.9L1270.6,1070.1L1270.9,1075.3L1271.2,1074.4L1271.5,1074.8L1271.7,1071.5L1271.9,1069.4L1272.1,1070.0L1272.4,1065.9L1272.6,1065.4L1272.8,1064.3L1273.0,1064.2L1273.2,1061.3L1273.5,1056.8L1273.7,1057.0L1273.9,1057.6L1274.1,1055.5L1274.3,1051.8L1274.6,1049.1L1274.8,1048.1L1275.0,1048.6L1275.1,1044.5L1275.2,1046.0L1275.3,1041.6L1275.4,1041.8L1275.5,1040.2L1275.7,1036.6L1275.8,1036.2L1275.9,1035.0L1276.0,1031.8L1276.1,1031.3L1276.2,1030.1L1276.3,1029.9L1276.4,1025.4L1276.5,1023.2L1276.6,1023.1L1276.7,1021.8L1276.8,1019.7L1277.0,1020.0L1277.1,1015.2L1277.2,1014.9L1277.3,1013.1L1277.4,1010.3L1277.5,1009.8L1277.6,1008.2L1277.7,1006.2L1277.7,1006.4L1277.8,1005.7L1277.9,1004.0L1278.0,999.1L1278.1,998.1L1278.1,999.1L1278.2,993.6L1278.3,992.1L1278.4,990.3L1278.5,992.7L1278.5,989.1L1278.6,987.1L1278.7,984.0L1278.8,985.9L1278.9,984.7L1279.0,981.8L1279.0,981.2L1279.1,978.0L1279.2,975.3L1279.3,973.1L1279.4,972.0L1279.4,969.8L1279.5,969.1L1279.6,966.1L1279.7,964.4L1279.8,966.6L1279.8,964.8L1279.9,963.0L1280.0,959.3L1280.0,958.2L1280.1,957.0L1280.1,956.4L1280.2,952.7L1280.2,952.0L1280.2,950.5L1280.3,950.2L1280.3,946.4L1280.3,943.3L1280.4,943.4L1280.4,943.9L1280.5,939.2L1280.5,939.6L1280.5,935.8L1280.6,934.8L1280.6,934.7L1280.7,930.8L1280.7,930.7L1280.7,929.7L1280.8,927.2L1280.8,927.2L1280.8,926.0L1280.9,921.9L1280.9,922.4L1281.0,920.7L1281.0,918.4L1281.0,916.8L1281.1,915.1L1281.1,914.2L1281.2,912.4L1281.2,908.9L1281.2,909.0L1281.3,907.6L1281.3,904.9L1281.3,905.2L1281.4,901.0L1281.4,900.5L1281.5,898.9L1281.5,897.5L1281.5,894.0L1281.6,894.5L1281.6,890.5L1281.7,890.7L1281.7,888.7L1281.7,888.2L1281.8,887.3L1281.8,886.2L1281.8,881.3L1281.9,882.7L1281.9,879.1L1282.0,877.6L1282.0,874.0L1282.0,876.0L1282.1,871.6L1282.1,870.2L1282.2,868.7L1282.2,866.8L1282.2,865.4L1282.3,863.8L1282.3,863.2L1282.3,860.8L1282.4,861.0L1282.4,860.1L1282.5,858.5L1282.5,854.5L1282.6,854.2L1282.6,852.8L1282.7,851.2L1282.8,848.1L1282.8,845.6L1282.9,846.5L1282.9,844.5L1283.0,841.5L1283.1,841.3L1283.1,837.1L1283.2,838.6L1283.3,837.5L1283.3,836.2L1283.4,830.9L1283.5,831.8L1283.5,830.6L1283.6,826.2L1283.7,826.6L1283.7,823.2L1283.8,821.7L1283.8,819.3L1283.9,818.8L1284.0,819.7L1284.0,816.9L1284.1,816.2L1284.2,815.4L1284.2,810.2L1284.3,811.7L1284.4,810.3L1284.4,807.6L1284.5,804.6L1284.6,802.3L1284.6,801.8L1284.7,800.0L1284.7,797.9L1284.8,798.1L1284.9,796.3L1284.9,793.0L1285.0,791.1L1285.0,790.9L1285.1,790.2L1285.1,788.4L1285.2,786.7L1285.2,786.2L1285.2,784.0L1285.3,781.0L1285.3,780.7L1285.4,778.7L1285.4,775.7L1285.4,773.3L1285.5,772.6L1285.5,772.5L1285.6,771.0L1285.6,767.4L1285.6,766.9L1285.7,763.2L1285.7,763.9L1285.8,761.6L1285.8,761.4L1285.8,760.2L1285.9,755.0L1285.9,757.4L1286.0,752.3L1286.0,754.2L1286.0,752.7L1286.1,747.7L1286.1,746.4L1286.2,744.2L1286.2,745.9L1286.2,743.6L1286.3,742.9L1286.4,740.6L1286.5,737.0L1286.6,737.3L1286.7,733.8L1286.7,732.1L1286.8,730.9L1286.9,730.5L1287.0,727.2L1287.1,726.6L1287.1,725.1L1287.2,724.4L1287.3,721.4L1287.4,719.6L1287.5,718.6L1287.5,716.5L1287.6,716.1L1287.7,711.7L1287.8,710.4L1287.9,708.2L1287.9,708.2L1288.0,708.6L1288.1,705.8L1288.2,704.4L1288.3,704.1L1288.3,702.0L1288.4,698.0L1288.5,696.1L1288.6,695.9L1288.7,692.9L1288.8,692.9L1288.8,689.0L1288.9,688.7L1289.0,688.5L1289.1,684.8L1289.2,682.6L1289.2,683.6L1289.3,679.5L1289.4,680.9L1289.5,678.0L1289.6,677.5L1289.7,674.3L1289.8,672.5L1289.8,669.8L1289.9,667.2L1290.0,669.5L1290.1,664.6L1290.2,662.4L1290.3,664.6L1290.4,661.2L1290.6,659.8L1290.7,659.6L1290.8,657.2L1290.9,653.5L1291.0,652.0L1291.1,652.0L1291.2,650.5L1291.3,646.9L1291.5,645.4L1291.6,644.9L1291.7,641.3L1291.8,643.0L1291.9,640.7L1292.0,636.8L1292.0,637.1L1292.1,635.5L1292.2,631.6L1292.2,631.4L1292.3,631.4L1292.4,628.3L1292.4,627.8L1292.5,624.0L1292.6,625.7L1292.6,622.6L1292.7,620.5L1292.7,616.4L1292.8,616.3L1292.9,613.1L1292.9,613.3L1293.0,610.5L1293.1,609.2L1293.1,607.8L1293.2,605.4L1293.3,604.4L1293.4,603.7L1293.5,600.5L1293.5,600.7L1293.6,600.8L1293.7,598.1L1293.8,597.5L1293.9,592.2L1294.0,593.0L1294.1,589.5L1294.2,590.9L1294.2,587.3L1294.3,586.7L1294.4,585.3L1294.5,580.8L1294.6,579.0L1294.8,580.5L1295.0,578.9L1295.2,575.6L1295.5,572.1L1295.7,570.5L1295.9,572.3L1296.1,570.2L1296.3,567.1L1296.5,566.8L1296.8,565.7L1297.0,560.6L1297.2,562.2L1297.4,561.6L1297.6,559.4L1297.8,557.9L1298.1,554.3L1298.3,553.4L1298.5,549.6L1298.7,550.9L1298.9,548.7L1299.2,545.9L1299.4,542.7L1299.6,541.6L1299.8,541.0L1300.1,541.6L1300.5,538.0L1300.8,538.1L1301.1,533.4L1301.4,532.1L1301.8,530.3L1302.1,528.9L1302.4,529.5L1303.5,526.3L1304.6,524.8L1305.7,525.1L1306.1,525.8L1306.6,529.5L1307.0,530.4L1307.4,532.8L1307.9,532.7L1308.3,534.3L1308.4,536.2L1308.5,540.2L1308.7,541.7L1308.8,541.7L1308.9,543.0L1309.0,542.8L1309.2,547.9L1309.3,548.4L1309.4,549.2L1309.5,549.8L1309.7,552.8L1309.8,555.4L1309.9,555.2L1310.0,556.8L1310.2,559.5L1310.3,561.1L1310.4,560.6L1310.5,562.5L1310.5,565.5L1310.6,568.6L1310.7,568.8L1310.8,568.8L1310.9,571.4L1310.9,572.9L1311.0,577.0L1311.1,576.3L1311.2,581.2L1311.3,579.8L1311.4,581.0L1311.4,581.9L1311.5,585.6L1311.6,587.4L1311.7,590.2L1311.8,591.3L1311.9,592.4L1311.9,591.9L1312.0,597.4L1312.1,596.1L1312.2,597.6L1312.3,599.0L1312.4,602.5L1312.5,604.4L1312.6,604.6L1312.7,606.0L1312.7,606.5L1312.8,610.7L1312.9,612.9L1313.0,611.9L1313.1,614.1L1313.1,618.0L1313.2,619.5L1313.2,618.6L1313.3,624.0L1313.3,624.5L1313.4,626.1L1313.5,626.0L1313.5,630.5L1313.6,629.8L1313.6,632.4L1313.7,635.5L1313.7,636.5L1313.8,635.3L1313.8,636.7L1313.9,638.7L1313.9,640.0L1314.0,645.0L1314.0,645.1L1314.0,646.5L1314.1,647.6L1314.1,649.8L1314.1,651.2L1314.2,654.1L1314.2,654.4L1314.2,658.0L1314.3,659.6L1314.3,661.3L1314.3,662.4L1314.4,661.5L1314.4,664.3L1314.5,667.7L1314.5,667.3L1314.5,669.8L1314.6,669.9L1314.6,674.2L1314.6,673.7L1314.7,675.5L1314.7,679.1L1314.7,677.6L1314.8,678.8L1314.8,682.3L1314.8,684.1L1314.9,684.2L1314.9,687.1L1314.9,690.4L1315.0,692.5L1315.0,694.4L1315.1,695.4L1315.1,693.8L1315.2,696.7L1315.3,698.7L1315.3,698.4L1315.4,703.4L1315.4,702.7L1315.5,706.6L1315.6,707.7L1315.6,707.5L1315.7,709.4L1315.8,711.5L1315.8,712.0L1315.9,712.8L1316.0,716.2L1316.0,716.9L1316.1,718.7L1316.2,722.6L1316.2,724.0L1316.3,724.2L1316.3,724.1L1316.4,728.9L1316.5,728.3L1316.5,729.2L1316.6,733.7L1316.7,736.0L1316.7,734.7L1316.8,737.6L1316.9,740.7L1316.9,740.7L1317.0,741.5L1317.1,742.3L1317.1,743.3L1317.2,748.7L1317.2,750.0L1317.3,748.8L1317.4,752.4L1317.4,752.0L1317.5,756.1L1317.6,756.1L1317.6,759.1L1317.7,760.0L1317.8,759.6L1317.8,763.3L1317.9,765.3L1317.9,764.2L1318.0,765.8L1318.1,768.4L1318.1,772.0L1318.2,774.7L1318.3,774.0L1318.3,777.4L1318.4,778.4L1318.5,778.0L1318.5,780.4L1318.6,783.8L1318.7,783.8L1318.7,785.5L1318.8,788.0L1318.8,787.1L1318.9,790.1L1319.0,791.9L1319.0,793.8L1319.1,795.9L1319.2,795.7L1319.2,798.2L1319.3,799.7L1319.4,799.7L1319.4,804.3L1319.5,806.7L1319.6,806.5L1319.6,807.5L1319.7,808.9L1319.7,810.9L1319.8,812.1L1319.9,813.3L1319.9,817.9L1320.0,816.9L1320.0,817.9L1320.1,821.4L1320.1,820.2L1320.2,823.3L1320.2,825.8L1320.2,828.6L1320.3,827.9L1320.3,828.4L1320.4,834.1L1320.4,831.5L1320.4,834.9L1320.5,836.9L1320.5,840.6L1320.6,839.4L1320.6,840.6L1320.6,842.4L1320.7,844.4L1320.7,845.0L1320.8,849.9L1320.8,849.8L1320.8,852.4L1320.9,852.0L1320.9,855.3L1321.0,858.0L1321.0,856.6L1321.0,861.4L1321.1,860.1L1321.1,863.6L1321.2,866.2L1321.2,865.7L1321.2,869.4L1321.3,868.6L1321.4,870.4L1321.4,874.2L1321.5,874.4L1321.6,873.5L1321.6,875.6L1321.7,878.9L1321.8,879.6L1321.8,880.0L1321.9,884.9L1322.0,884.4L1322.0,888.5L1322.1,887.7L1322.1,888.5L1322.2,891.2L1322.3,894.6L1322.3,896.5L1322.4,896.6L1322.5,896.9L1322.5,899.7L1322.6,900.1L1322.7,902.1L1322.7,902.2L1322.8,903.8L1322.9,909.5L1322.9,910.3L1323.0,909.6L1323.0,912.9L1323.1,912.0L1323.2,917.0L1323.2,917.7L1323.3,919.8L1323.4,920.1L1323.4,921.7L1323.5,925.0L1323.6,924.4L1323.6,924.9L1323.7,926.7L1323.8,931.8L1323.8,930.6L1323.9,931.3L1324.0,935.1L1324.1,934.8L1324.2,937.7L1324.2,940.9L1324.3,940.1L1324.4,942.6L1324.5,946.4L1324.6,947.8L1324.6,949.4L1324.7,947.3L1324.8,953.0L1324.9,952.8L1325.0,952.7L1325.0,957.9L1325.1,955.8L1325.2,961.2L1325.3,958.6L1325.4,960.4L1325.4,963.8L1325.5,966.0L1325.6,967.5L1325.7,970.1L1325.8,968.6L1325.8,972.9L1325.9,972.8L1326.0,977.2L1326.1,977.3L1326.2,979.2L1326.2,978.4L1326.4,983.5L1326.5,982.4L1326.7,983.7L1326.8,986.3L1326.9,989.6L1327.1,989.2L1327.2,991.5L1327.4,993.8L1327.5,993.9L1327.6,995.0L1327.8,997.9L1327.9,1000.9L1328.1,1002.5L1328.2,1002.1L1328.3,1005.7L1328.5,1008.1L1328.6,1009.2L1328.8,1008.6L1328.8,1009.6L1328.9,1015.3L1329.0,1015.7L1329.1,1015.4L1329.2,1019.1L1329.3,1020.0L1329.4,1021.8L1329.5,1022.2L1329.6,1025.2L1329.7,1025.5L1329.8,1027.1L1329.9,1028.5L1330.0,1031.9L1330.1,1034.0L1330.2,1033.1L1330.3,1033.8L1330.4,1036.2L1330.5,1040.0L1330.6,1039.8L1330.7,1039.9L1330.8,1045.2L1330.9,1045.0L1331.0,1045.0L1331.1,1049.5L1331.2,1050.1L1331.2,1053.2L1331.3,1054.7L1331.4,1056.3L1331.5,1058.2L1331.6,1057.6L1331.7,1061.0L1331.8,1061.3L1331.9,1063.6L1332.0,1063.2L1332.1,1066.6L1332.2,1065.8L1332.3,1070.9L1332.4,1069.5L1332.5,1072.8L1332.7,1075.6L1332.8,1077.2L1333.0,1079.0L1333.2,1078.7L1333.3,1078.8L1333.5,1084.4L1333.6,1083.1L1333.8,1087.1L1334.0,1086.8L1334.1,1088.5L1334.3,1090.6L1334.5,1092.3L1334.6,1094.9L1334.8,1095.7L1334.9,1095.5L1335.1,1098.7L1335.3,1098.4L1335.4,1103.4L1335.6,1102.1L1335.8,1104.5L1335.9,1107.1L1336.1,1107.7L1336.2,1111.7L1336.5,1112.9L1336.8,1112.4L1337.0,1114.4L1337.3,1117.4L1337.6,1117.9L1337.8,1120.1L1338.1,1120.3L1338.4,1122.9L1338.6,1124.6L1338.9,1127.5L1339.1,1126.7L1339.4,1130.3L1339.7,1129.3L1339.9,1131.2L1340.2,1132.5L1340.5,1137.2L1340.7,1135.1L1341.0,1137.5L1341.2,1139.9L1341.6,1142.6L1341.9,1144.0L1342.2,1143.3L1342.5,1146.2L1342.8,1149.3L1343.1,1148.4L1343.4,1150.0L1343.8,1154.8L1344.1,1152.8L1344.4,1154.8L1344.7,1157.0L1345.0,1161.5L1345.1,1161.0L1345.2,1163.0L1345.3,1165.1L1345.4,1168.3L1345.5,1166.2L1345.7,1168.5L1345.8,1171.1L1345.9,1173.8L1346.0,1173.2L1346.1,1176.1L1346.2,1178.4L1346.3,1177.8L1346.6,1180.7L1346.9,1181.2L1347.3,1186.6L1347.6,1184.4L1347.9,1186.8L1348.2,1190.5L1348.5,1190.5L1348.9,1193.7L1349.2,1194.4L1349.5,1199.0L1349.8,1198.8L1350.1,1199.6L1350.4,1200.6L1350.7,1203.7L1351.0,1206.7L1351.3,1208.2L1351.6,1209.9L1351.9,1210.8L1352.2,1214.4L1353.0,1213.6L1353.7,1215.8L1354.5,1219.1L1355.3,1219.9L1356.0,1220.1L1356.8,1223.0L1358.4,1223.5L1360.0,1222.1L1361.7,1223.2L1363.3,1225.4L1364.6,1224.7L1365.9,1225.6L1367.3,1227.5L1368.6,1226.4L1369.1,1228.9L1369.6,1233.7L1370.1,1232.1L1370.5,1236.2L1371.0,1234.3L1371.5,1237.3L1372.0,1239.8L1372.5,1240.6L1372.9,1245.0L1373.3,1246.7L1373.7,1245.5L1374.2,1246.4L1374.6,1251.5L1375.0,1252.6L1375.4,1253.0L1375.8,1252.7L1376.5,1253.9L1377.1,1258.4L1377.8,1259.9L1378.4,1260.5L1379.1,1261.4L1379.7,1262.6L1380.4,1264.5L1380.9,1266.4L1381.4,1268.9L1381.9,1269.6L1382.3,1270.9L1382.8,1272.1L1383.3,1275.6L1383.8,1278.5L1384.3,1276.8L1384.6,1281.0L1385.0,1282.1L1385.3,1281.9L1385.7,1283.1L1386.0,1287.9L1386.3,1286.5L1386.7,1288.0L1387.0,1289.5L1387.4,1294.3L1387.8,1294.1L1388.2,1294.1L1388.7,1296.9L1389.1,1299.6L1389.5,1301.1L1389.9,1301.3L1390.3,1306.0L1390.7,1307.0L1391.1,1306.8L1391.5,1308.6L1391.9,1310.0L1392.3,1310.6L1392.7,1314.8L1393.1,1315.0L1393.5,1318.3L1394.5,1320.7L1395.5,1320.1L1396.5,1321.6L1397.5,1323.6L1398.3,1325.6L1399.0,1325.2L1399.8,1328.3L1400.6,1329.4L1401.3,1330.1L1402.1,1334.8L1403.3,1335.5L1404.5,1335.9L1405.6,1335.4L1406.8,1339.6L1408.0,1339.4L1409.1,1342.9L1410.2,1343.2L1411.2,1342.7L1412.3,1346.3L1413.4,1346.9L1414.5,1347.2L1416.1,1349.9L1417.7,1348.6L1419.2,1348.6L1420.8,1348.9L1422.4,1352.2L1423.3,1349.2L1424.2,1347.1L1425.1,1345.1L1425.9,1346.8L1426.8,1343.1L1427.7,1344.1L1429.7,1344.2L1431.7,1343.9L1433.6,1341.3L1435.6,1344.4L1437.5,1343.0L1439.5,1344.0L1441.5,1344.3L1443.4,1341.7L1444.5,1340.7L1445.6,1341.6L1446.7,1337.7L1447.8,1335.5L1448.9,1334.0L1450.0,1334.9L1451.3,1334.9L1452.6,1338.7L1454.0,1335.7L1455.3,1338.4L1456.6,1340.8L1457.2,1342.1L1457.7,1344.7L1458.3,1345.6L1458.8,1348.3L1459.4,1350.4L1459.9,1351.6L1460.5,1352.2L1462.1,1351.8L1463.7,1352.9L1465.2,1352.1L1466.8,1352.8L1468.4,1354.5L1469.1,1355.6L1469.9,1356.8L1470.6,1356.9L1471.3,1362.3L1472.1,1360.9L1472.8,1363.0L1473.5,1363.9L1474.3,1366.3L1475.0,1368.7L1476.6,1369.8L1478.2,1368.6L1479.9,1370.4L1481.5,1368.2L1482.8,1369.6L1484.1,1370.0L1485.4,1373.7L1486.8,1370.9L1488.1,1372.3L1489.4,1375.6L1490.7,1374.2L1492.3,1373.2L1493.9,1374.3L1495.4,1374.4L1497.0,1374.1L1498.6,1372.8L1500.3,1373.1L1502.1,1372.6L1503.8,1371.9L1505.6,1373.2L1507.3,1371.7L1509.1,1371.3L1510.7,1374.3L1512.3,1373.9L1513.8,1371.4L1515.4,1371.8L1517.0,1369.6L1518.6,1368.3L1520.1,1369.4L1521.7,1370.3L1523.4,1365.8L1525.0,1366.8L1526.7,1367.6L1528.3,1363.5L1530.0,1365.4L1531.0,1362.5L1531.9,1363.3L1532.9,1362.1L1533.8,1361.0L1534.8,1359.1L1535.7,1354.6L1536.7,1355.7L1538.3,1355.3L1540.0,1354.1L1541.7,1353.7L1543.3,1354.9L1543.8,1353.0L1544.2,1351.3L1544.7,1352.0L1545.2,1347.1L1545.6,1348.2L1546.1,1343.4L1546.6,1344.2L1547.0,1341.4L1547.5,1339.5L1548.0,1338.2L1548.4,1335.1L1548.9,1333.8L1549.4,1332.9L1549.8,1330.3L1550.3,1331.5L1550.8,1329.2L1551.2,1327.2L1551.7,1325.9L1552.2,1321.8L1552.6,1319.5L1553.1,1318.2L1553.5,1320.0L1554.0,1316.6L1554.4,1317.1L1554.9,1312.6L1555.3,1311.2L1555.8,1310.7L1556.2,1309.9L1556.6,1306.3L1557.0,1304.9L1557.5,1302.7L1557.9,1300.5L1558.3,1301.8L1559.8,1302.4L1561.3,1301.0L1562.8,1300.4L1564.3,1304.3L1565.8,1303.1L1566.4,1306.1L1567.0,1306.3L1567.6,1306.5L1568.2,1311.1L1568.8,1309.9L1569.4,1315.3L1570.0,1313.5L1570.4,1316.0L1570.8,1316.1L1571.2,1318.8L1571.7,1322.3L1572.1,1321.5L1572.5,1323.3L1572.9,1324.7L1573.3,1326.2L1573.8,1330.0L1574.2,1330.4L1574.7,1334.4L1575.2,1335.8L1575.6,1336.7L1576.1,1340.2L1576.6,1342.0L1577.0,1340.8L1577.5,1344.5L1578.2,1345.8L1578.9,1345.3L1579.6,1349.6L1580.3,1347.9L1581.0,1352.4L1581.7,1355.1L1583.0,1355.0L1584.3,1356.2L1585.7,1357.0L1587.0,1356.9L1588.3,1356.6L1589.4,1359.2L1590.5,1360.3L1591.7,1363.9L1592.8,1365.6L1593.9,1367.4L1595.0,1366.0L1596.3,1367.4L1597.7,1366.5L1599.0,1361.6L1600.4,1362.9L1601.7,1359.9L1603.4,1359.5L1605.0,1360.8L1606.7,1361.6L1608.3,1358.9L1610.0,1359.2L1611.0,1358.5L1611.9,1357.3L1612.9,1354.1L1613.8,1352.8L1614.8,1350.7L1615.7,1350.6L1616.7,1352.1L1617.2,1347.0L1617.8,1347.8L1618.3,1345.7L1618.9,1344.9L1619.5,1343.0L1620.0,1338.1L1620.6,1337.6L1621.2,1338.1L1621.8,1335.6L1622.4,1334.9L1623.0,1329.6L1623.6,1331.5L1624.2,1327.8L1625.4,1328.4L1626.5,1326.3L1627.7,1324.2L1628.8,1323.8L1630.0,1320.4L1631.7,1325.5L1633.3,1326.2L1635.0,1326.3L1636.7,1327.3L1638.4,1328.8L1640.0,1328.6L1641.7,1328.9L1642.5,1332.3L1643.4,1335.5L1644.2,1336.6L1645.0,1338.0L1645.9,1336.9L1646.7,1339.2L1647.8,1340.4L1648.9,1343.0L1650.0,1345.9L1651.1,1346.1L1652.2,1347.3L1653.3,1348.0L1653.9,1348.5L1654.5,1350.6L1655.2,1355.4L1655.8,1356.8L1656.4,1357.3L1657.0,1359.2L1657.7,1358.8L1658.3,1359.6L1659.6,1360.9L1661.0,1362.2L1662.3,1364.4L1663.7,1369.1L1665.0,1368.6L1666.7,1367.7L1668.3,1367.9L1670.0,1368.2L1671.6,1368.9L1673.3,1370.1L1675.0,1370.4L1676.6,1369.1L1678.3,1368.8L1680.0,1370.0L1681.6,1367.2L1683.3,1366.7L1685.0,1369.5L1686.7,1367.3L1688.3,1368.9L1690.0,1367.4L1691.7,1369.2L1693.4,1366.1L1695.0,1367.3L1696.7,1369.9L1698.3,1367.4L1700.0,1368.9L1701.7,1366.8L1703.3,1366.0L1705.0,1367.2L1706.7,1367.0L1708.3,1364.9L1710.0,1366.8L1711.7,1365.9L1713.3,1365.2L1715.0,1366.6L1716.7,1366.7L1718.3,1364.2L1720.0,1363.3L1721.7,1365.7L1723.3,1366.0L1725.0,1365.2L1726.7,1366.0L1728.3,1365.1L1730.0,1367.1L1731.6,1366.7L1733.3,1368.3L1735.0,1366.0L1736.7,1365.2L1738.3,1368.9L1740.0,1367.9L1741.7,1369.0L1743.3,1369.0L1745.0,1369.3L1746.7,1367.7L1748.4,1370.0L1750.0,1369.0L1751.7,1368.2L1753.3,1367.3L1755.0,1367.1L1756.7,1367.8L1758.3,1368.3L1760.0,1368.5L1761.7,1369.0L1763.3,1369.8L1765.0,1367.4L1766.7,1367.1L1768.3,1363.5L1770.0,1365.9L1771.7,1364.9L1773.3,1365.7L1775.0,1363.5L1776.7,1364.5L1778.3,1363.6L1780.0,1364.5L1781.4,1361.9L1782.8,1362.5L1784.2,1361.6L1785.5,1359.0L1786.9,1357.8L1788.3,1357.6L1789.7,1356.0L1791.1,1357.1L1792.5,1356.1L1793.9,1353.4L1795.3,1353.4L1796.7,1350.0L1797.9,1352.3L1799.1,1349.8L1800.3,1346.0L1801.4,1344.7L1802.6,1347.2L1803.8,1345.7L1805.0,1343.8L1806.2,1341.4L1807.5,1339.3L1808.8,1338.9L1810.0,1339.3L1811.0,1336.5L1811.9,1332.4L1812.9,1331.6L1813.8,1329.5L1814.8,1331.4L1815.7,1329.8L1816.7,1328.6L1818.0,1325.1L1819.3,1323.2L1820.7,1320.7L1822.0,1320.3L1823.3,1319.3L1824.7,1318.7L1826.1,1317.6L1827.5,1318.5L1828.9,1318.2L1830.3,1315.3L1831.7,1316.4L1833.4,1313.3L1835.0,1312.4L1836.7,1313.9L1838.3,1310.0L1840.0,1309.1L1841.7,1312.6L1843.3,1309.6L1845.0,1308.8L1846.7,1309.7L1848.4,1309.6L1850.0,1306.7L1851.7,1308.0L1853.4,1305.1L1855.0,1308.4L1856.7,1306.3L1858.3,1306.2L1860.0,1304.6L1861.7,1304.8L1863.3,1306.2L1865.0,1305.0L1866.2,1306.2L1867.5,1306.4L1868.8,1302.0L1870.0,1302.8L1871.2,1300.8L1872.5,1299.7L1873.8,1299.2L1875.0,1296.6L1876.7,1297.5L1878.3,1293.8L1880.0,1295.5L1881.6,1294.1L1883.3,1292.0L1884.6,1291.2L1885.9,1293.4L1887.2,1291.1L1888.6,1289.5L1889.9,1288.6L1891.2,1289.2L1892.5,1287.3L1893.1,1287.1L1893.8,1292.0L1894.4,1293.2L1895.0,1294.6L1895.6,1295.9L1896.2,1297.4L1896.9,1297.6L1897.5,1302.1L1899.3,1300.6L1901.2,1297.8L1903.0,1300.3L1904.9,1298.3L1906.7,1296.4L1908.1,1300.9L1909.6,1299.0L1911.0,1300.8L1912.4,1300.3L1913.8,1303.2L1915.3,1304.2L1916.7,1306.4L1918.1,1306.0L1919.6,1304.8L1921.0,1302.9L1922.4,1300.7L1923.8,1302.1L1925.3,1298.1L1926.7,1297.5L1928.4,1298.6L1930.0,1297.7L1931.7,1298.6L1933.3,1296.6L1935.0,1297.2L1936.7,1296.2L1938.3,1298.0L1940.0,1297.2L1941.7,1299.1L1943.3,1296.1L1945.0,1295.3L1946.7,1297.1L1948.3,1294.2L1950.0,1296.5L1951.7,1294.3L1953.3,1291.8L1955.0,1293.4L1956.7,1293.9L1958.3,1290.0L1960.0,1290.2L1961.0,1291.6L1961.9,1294.8L1962.9,1296.4L1963.8,1293.8L1964.8,1296.6L1965.7,1299.9L1966.7,1299.6L1968.4,1299.8L1970.0,1299.8L1971.7,1297.1L1973.3,1297.0L1975.0,1300.5L1976.6,1298.1L1978.3,1298.1L1980.0,1299.1L1981.6,1300.5L1983.3,1301.7L1985.0,1298.7L1986.6,1301.7L1988.3,1299.5L1990.0,1301.1L1991.6,1301.4L1993.3,1299.1L1995.0,1297.8L1996.6,1299.1L1998.3,1297.5L1999.5,1297.5L2000.8,1294.8L2002.0,1292.7L2003.3,1293.3L2004.5,1291.4L2005.8,1288.2L2007.0,1287.7L2008.3,1290.3L2009.7,1287.8L2011.1,1284.0L2012.5,1286.1L2013.9,1285.0L2015.3,1280.8L2016.7,1283.9L2017.8,1278.9L2018.9,1278.9L2020.0,1278.4L2021.1,1276.0L2022.2,1274.0L2023.3,1273.2L2025.0,1273.6L2026.6,1274.8L2028.3,1274.2L2030.0,1274.4L2031.6,1273.3L2033.3,1271.6L2034.7,1270.1L2036.2,1271.6L2037.6,1270.7L2039.0,1267.0L2040.4,1268.2L2041.9,1265.3L2043.3,1263.0L2044.7,1263.9L2046.2,1264.8L2047.6,1262.3L2049.0,1262.6L2050.4,1261.7L2051.9,1260.6L2053.3,1257.4L2055.0,1260.1L2056.6,1256.5L2058.3,1258.3L2060.0,1256.5L2061.6,1257.8L2063.3,1260.0L2065.0,1259.5L2066.7,1260.1L2068.3,1258.0L2070.0,1257.6L2071.7,1255.8L2073.3,1257.0L2075.0,1258.7L2076.7,1256.0L2078.4,1258.5L2080.0,1256.3L2081.7,1258.7L2083.3,1256.3L2085.0,1259.9L2086.6,1256.4L2088.3,1256.5L2089.7,1257.5L2091.1,1257.3L2092.5,1255.9L2093.9,1253.5L2095.3,1253.7L2096.7,1250.4L2097.7,1249.7L2098.8,1248.3L2099.8,1246.7L2100.8,1244.7L2101.9,1244.2L2102.9,1244.4L2104.0,1243.4L2105.0,1241.0L2106.0,1240.9L2107.1,1238.5L2108.1,1239.3L2109.2,1234.6L2110.2,1236.6L2111.2,1236.0L2112.3,1233.3L2113.3,1232.3L2114.6,1232.6L2115.8,1227.6L2117.1,1226.2L2118.3,1226.7L2119.6,1226.4L2120.8,1224.4L2122.1,1222.9L2123.3,1221.4L2124.0,1220.0L2124.6,1220.4L2125.3,1215.3L2126.0,1216.4L2126.7,1212.4L2127.3,1214.2L2128.0,1210.2L2128.7,1211.0L2129.3,1207.4L2130.0,1207.3L2131.2,1205.5L2132.4,1206.3L2133.6,1203.0L2134.7,1202.0L2135.9,1200.7L2137.1,1198.4L2138.3,1200.2L2139.5,1196.4L2140.7,1194.4L2141.9,1193.5L2143.1,1194.5L2144.3,1194.1L2145.5,1191.6L2146.7,1192.0L2147.5,1187.3L2148.4,1188.7L2149.2,1186.7L2150.0,1182.7L2150.8,1180.7L2151.7,1180.7L2152.5,1179.1L2153.3,1178.0L2154.2,1177.5L2155.0,1173.8L2156.0,1172.5L2157.1,1171.3L2158.1,1169.1L2159.2,1168.9L2160.2,1168.1L2161.2,1165.2L2162.3,1163.2L2163.3,1164.3L2164.4,1160.1L2165.5,1162.1L2166.7,1159.7L2167.8,1156.6L2168.9,1154.2L2170.0,1156.5L2171.3,1151.6L2172.7,1153.4L2174.0,1151.1L2175.4,1150.5L2176.7,1147.0L2178.5,1148.8L2180.2,1146.2L2182.0,1147.1" fill="none" stroke="#000" stroke-width="6" stroke-linejoin="round" stroke-linecap="butt" shape-rendering="crispEdges"/>
<rect x="170.5" y="46.5" width="2015" height="1569" fill="none" stroke="#000" stroke-width="7"/>
<rect x="432.13" y="50" width="7" height="12" fill="#000"/>
<rect x="432.13" y="1601" width="7" height="11" fill="#000"/>
<rect x="697.26" y="50" width="7" height="26" fill="#000"/>
<rect x="697.26" y="1587" width="7" height="25" fill="#000"/>
<rect x="962.39" y="50" width="7" height="12" fill="#000"/>
<rect x="962.39" y="1601" width="7" height="11" fill="#000"/>
<rect x="1227.53" y="50" width="7" height="26" fill="#000"/>
<rect x="1227.53" y="1587" width="7" height="25" fill="#000"/>
<rect x="1492.66" y="50" width="7" height="12" fill="#000"/>
<rect x="1492.66" y="1601" width="7" height="11" fill="#000"/>
<rect x="1757.79" y="50" width="7" height="26" fill="#000"/>
<rect x="1757.79" y="1587" width="7" height="25" fill="#000"/>
<rect x="2022.92" y="50" width="7" height="12" fill="#000"/>
<rect x="2022.92" y="1601" width="7" height="11" fill="#000"/>
<defs><filter id="crisp" x="0" y="0" width="2230" height="1859" filterUnits="userSpaceOnUse" color-interpolation-filters="sRGB"><feComponentTransfer><feFuncA type="discrete" tableValues="0 1"/></feComponentTransfer></filter></defs>
<g font-family="'Liberation Sans', Arial, sans-serif" style="font-kerning:none" filter="url(#crisp)">
<text x="76.78" y="1712.90" font-size="85.93" fill="#000" textLength="184.56" lengthAdjust="spacingAndGlyphs">2000</text>
<text x="612.64" y="1712.90" font-size="85.93" fill="#000" textLength="178.59" lengthAdjust="spacingAndGlyphs">1500</text>
<text x="1142.61" y="1712.90" font-size="85.93" fill="#000" textLength="179.59" lengthAdjust="spacingAndGlyphs">1000</text>
<text x="1693.71" y="1712.90" font-size="85.93" fill="#000" textLength="135.16" lengthAdjust="spacingAndGlyphs">500</text>
<text x="795.81" y="1815.70" font-size="91.96" fill="#000" textLength="695.95" lengthAdjust="spacingAndGlyphs">Wavenumber, cm</text>
<text x="1492.03" y="1779.10" font-size="64.25" fill="#000" textLength="59.52" lengthAdjust="spacingAndGlyphs">−1</text>
<text transform="translate(118.96,1153.23) rotate(-90)" x="0" y="0" font-size="92.00" fill="#000" textLength="640.44" lengthAdjust="spacingAndGlyphs">Raman intensity</text>
<text x="1684.57" y="767.10" font-size="70.14" fill="#ff0000" textLength="485.90" lengthAdjust="spacingAndGlyphs">After adsorption</text>
<text x="1618.26" y="1458.20" font-size="70.00" fill="#000" textLength="542.50" lengthAdjust="spacingAndGlyphs">Before adsorption</text>
<text transform="translate(584.90,466.48) rotate(-90)" x="0" y="0" font-size="49.98" fill="#ff0000" textLength="107.36" lengthAdjust="spacingAndGlyphs">1610</text>
<text transform="translate(635.00,468.37) rotate(-90)" x="0" y="0" font-size="50.13" fill="#000" textLength="107.26" lengthAdjust="spacingAndGlyphs">1600</text>
<text transform="translate(712.00,362.59) rotate(-90)" x="0" y="0" font-size="50.13" fill="#ff0000" textLength="107.72" lengthAdjust="spacingAndGlyphs">1495</text>
<text transform="translate(756.00,362.53) rotate(-90)" x="0" y="0" font-size="50.13" fill="#000" textLength="105.92" lengthAdjust="spacingAndGlyphs">1484</text>
<text transform="translate(841.00,246.21) rotate(-90)" x="0" y="0" font-size="50.27" fill="#000" textLength="99.60" lengthAdjust="spacingAndGlyphs">1371</text>
<text transform="translate(905.00,246.45) rotate(-90)" x="0" y="0" font-size="50.27" fill="#000" textLength="106.45" lengthAdjust="spacingAndGlyphs">1325</text>
<text transform="translate(984.00,246.45) rotate(-90)" x="0" y="0" font-size="50.27" fill="#000" textLength="106.45" lengthAdjust="spacingAndGlyphs">1245</text>
<text transform="translate(1152.10,371.43) rotate(-90)" x="0" y="0" font-size="50.56" fill="#000" textLength="106.13" lengthAdjust="spacingAndGlyphs">1074</text>
<text transform="translate(1200.90,377.87) rotate(-90)" x="0" y="0" font-size="49.84" fill="#000" textLength="107.19" lengthAdjust="spacingAndGlyphs">1046</text>
<text transform="translate(1255.90,306.68) rotate(-90)" x="0" y="0" font-size="49.84" fill="#000" textLength="81.12" lengthAdjust="spacingAndGlyphs">985</text>
<text transform="translate(1293.70,233.18) rotate(-90)" x="0" y="0" font-size="49.27" fill="#000" textLength="81.30" lengthAdjust="spacingAndGlyphs">968</text>
<text transform="translate(1329.90,173.71) rotate(-90)" x="0" y="0" font-size="49.84" fill="#000" textLength="82.07" lengthAdjust="spacingAndGlyphs">925</text>
<text transform="translate(1379.00,465.12) rotate(-90)" x="0" y="0" font-size="49.98" fill="#000" textLength="81.55" lengthAdjust="spacingAndGlyphs">868</text>
<text transform="translate(1585.80,456.63) rotate(-90)" x="0" y="0" font-size="50.13" fill="#000" textLength="82.98" lengthAdjust="spacingAndGlyphs">689</text>
<text transform="translate(1649.80,465.52) rotate(-90)" x="0" y="0" font-size="50.27" fill="#000" textLength="82.80" lengthAdjust="spacingAndGlyphs">623</text>
</g>
</svg></body></html>
